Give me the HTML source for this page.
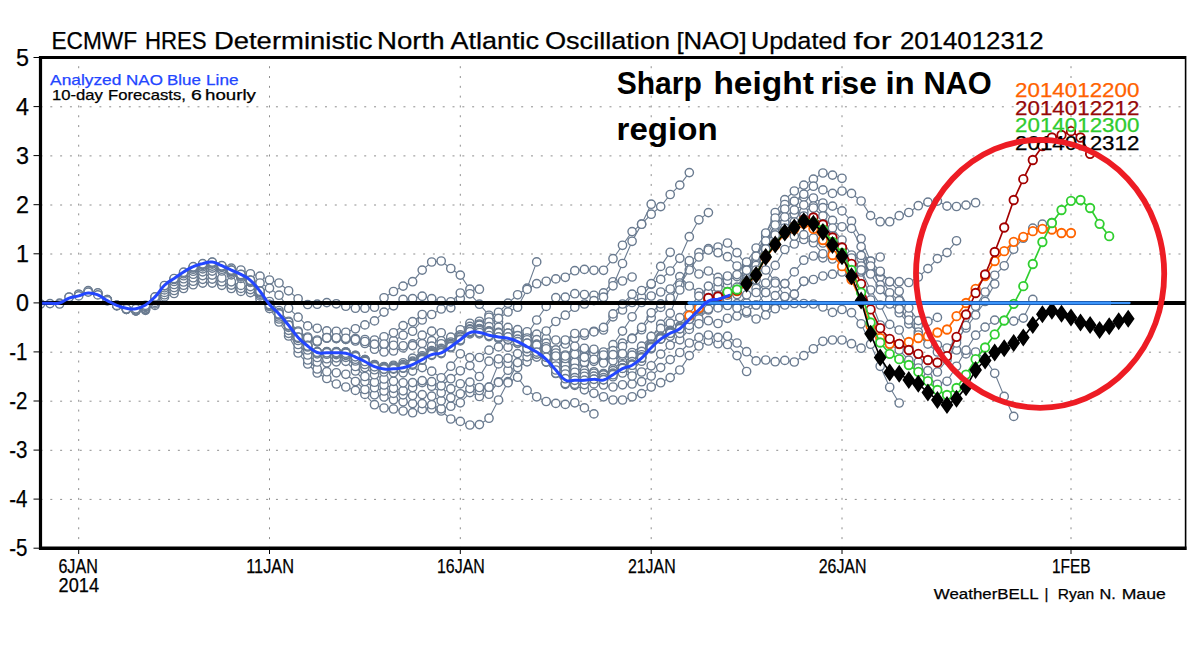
<!DOCTYPE html>
<html><head><meta charset="utf-8"><title>NAO</title>
<style>html,body{margin:0;padding:0;background:#fff}svg{display:block}</style>
</head><body>
<svg width="1200" height="648" viewBox="0 0 1200 648">
<rect width="1200" height="648" fill="#fff"/>
<g stroke="#8e8e8e" stroke-width="1" stroke-dasharray="2 7.81" fill="none">
<path d="M40.5 499.4H1185.5"/>
<path d="M40.5 450.3H1185.5"/>
<path d="M40.5 401.2H1185.5"/>
<path d="M40.5 352.2H1185.5"/>
<path d="M40.5 254H1185.5"/>
<path d="M40.5 205H1185.5"/>
<path d="M40.5 155.9H1185.5"/>
<path d="M40.5 106.8H1185.5"/>
<path d="M78.7 548.9V57.5"/>
<path d="M269.5 548.9V57.5"/>
<path d="M460.3 548.9V57.5"/>
<path d="M651.2 548.9V57.5"/>
<path d="M842 548.9V57.5"/>
<path d="M1071 548.9V57.5"/>
</g>
<defs><clipPath id="pc"><rect x="40.5" y="57.5" width="1145" height="490.7"/></clipPath></defs>
<g stroke="#6a7b90" fill="#fff" clip-path="url(#pc)">
<path d="M40.5 304 50 303.6 59.6 303.2 69.1 297 78.7 294.3 88.2 291.1 97.8 293.6 107.3 299.9 116.8 305.4 126.4 309.3 135.9 310.8 145.5 310.3 155 305.4 164.5 296.9 174.1 293.5 183.6 288.5 193.2 284.7 202.7 283.1 212.2 283.1 221.8 285.3 231.3 288.5 240.9 291.4 250.4 292.6 260 298.9 269.5 307.5 279 315.5 288.6 325.3 298.1 334 307.7 339 317.2 341.5 326.8 337.7 336.3 338.3 345.8 339.3 355.4 340.5 364.9 342.5 374.5 345.2 384 345 393.5 340.7 403.1 335.2 412.6 331.2 422.2 320" fill="none" stroke-width="1.1"/>
<g stroke-width="1.4"><circle cx="40.5" cy="304" r="4.15"/><circle cx="50" cy="303.6" r="4.15"/><circle cx="59.6" cy="303.2" r="4.15"/><circle cx="69.1" cy="297" r="4.15"/><circle cx="78.7" cy="294.3" r="4.15"/><circle cx="88.2" cy="291.1" r="4.15"/><circle cx="97.8" cy="293.6" r="4.15"/><circle cx="107.3" cy="299.9" r="4.15"/><circle cx="116.8" cy="305.4" r="4.15"/><circle cx="126.4" cy="309.3" r="4.15"/><circle cx="135.9" cy="310.8" r="4.15"/><circle cx="145.5" cy="310.3" r="4.15"/><circle cx="155" cy="305.4" r="4.15"/><circle cx="164.5" cy="296.9" r="4.15"/><circle cx="174.1" cy="293.5" r="4.15"/><circle cx="183.6" cy="288.5" r="4.15"/><circle cx="193.2" cy="284.7" r="4.15"/><circle cx="202.7" cy="283.1" r="4.15"/><circle cx="212.2" cy="283.1" r="4.15"/><circle cx="221.8" cy="285.3" r="4.15"/><circle cx="231.3" cy="288.5" r="4.15"/><circle cx="240.9" cy="291.4" r="4.15"/><circle cx="250.4" cy="292.6" r="4.15"/><circle cx="260" cy="298.9" r="4.15"/><circle cx="269.5" cy="307.5" r="4.15"/><circle cx="279" cy="315.5" r="4.15"/><circle cx="288.6" cy="325.3" r="4.15"/><circle cx="298.1" cy="334" r="4.15"/><circle cx="307.7" cy="339" r="4.15"/><circle cx="317.2" cy="341.5" r="4.15"/><circle cx="326.8" cy="337.7" r="4.15"/><circle cx="336.3" cy="338.3" r="4.15"/><circle cx="345.8" cy="339.3" r="4.15"/><circle cx="355.4" cy="340.5" r="4.15"/><circle cx="364.9" cy="342.5" r="4.15"/><circle cx="374.5" cy="345.2" r="4.15"/><circle cx="384" cy="345" r="4.15"/><circle cx="393.5" cy="340.7" r="4.15"/><circle cx="403.1" cy="335.2" r="4.15"/><circle cx="412.6" cy="331.2" r="4.15"/><circle cx="422.2" cy="320" r="4.15"/></g>
<path d="M59.6 304 69.1 297.3 78.7 294.3 88.2 290.6 97.8 293.3 107.3 299.7 116.8 305.4 126.4 309.3 135.9 310.8 145.5 309.5 155 303.9 164.5 294.7 174.1 290.5 183.6 285.2 193.2 281.2 202.7 279.3 212.2 279.1 221.8 281.7 231.3 285.1 240.9 288.4 250.4 289.6 260 295.9 269.5 304.5 279 313 288.6 323.3 298.1 333 307.7 339 317.2 341.8 326.8 338.2 336.3 338.6 345.8 339.3 355.4 341 364.9 343.5 374.5 349.2 384 352 393.5 351 403.1 347.9 412.6 343.9 422.2 335.2 431.7 331.2 441.2 332.8" fill="none" stroke-width="1.1"/>
<g stroke-width="1.4"><circle cx="59.6" cy="304" r="4.15"/><circle cx="69.1" cy="297.3" r="4.15"/><circle cx="78.7" cy="294.3" r="4.15"/><circle cx="88.2" cy="290.6" r="4.15"/><circle cx="97.8" cy="293.3" r="4.15"/><circle cx="107.3" cy="299.7" r="4.15"/><circle cx="116.8" cy="305.4" r="4.15"/><circle cx="126.4" cy="309.3" r="4.15"/><circle cx="135.9" cy="310.8" r="4.15"/><circle cx="145.5" cy="309.5" r="4.15"/><circle cx="155" cy="303.9" r="4.15"/><circle cx="164.5" cy="294.7" r="4.15"/><circle cx="174.1" cy="290.5" r="4.15"/><circle cx="183.6" cy="285.2" r="4.15"/><circle cx="193.2" cy="281.2" r="4.15"/><circle cx="202.7" cy="279.3" r="4.15"/><circle cx="212.2" cy="279.1" r="4.15"/><circle cx="221.8" cy="281.7" r="4.15"/><circle cx="231.3" cy="285.1" r="4.15"/><circle cx="240.9" cy="288.4" r="4.15"/><circle cx="250.4" cy="289.6" r="4.15"/><circle cx="260" cy="295.9" r="4.15"/><circle cx="269.5" cy="304.5" r="4.15"/><circle cx="279" cy="313" r="4.15"/><circle cx="288.6" cy="323.3" r="4.15"/><circle cx="298.1" cy="333" r="4.15"/><circle cx="307.7" cy="339" r="4.15"/><circle cx="317.2" cy="341.8" r="4.15"/><circle cx="326.8" cy="338.2" r="4.15"/><circle cx="336.3" cy="338.6" r="4.15"/><circle cx="345.8" cy="339.3" r="4.15"/><circle cx="355.4" cy="341" r="4.15"/><circle cx="364.9" cy="343.5" r="4.15"/><circle cx="374.5" cy="349.2" r="4.15"/><circle cx="384" cy="352" r="4.15"/><circle cx="393.5" cy="351" r="4.15"/><circle cx="403.1" cy="347.9" r="4.15"/><circle cx="412.6" cy="343.9" r="4.15"/><circle cx="422.2" cy="335.2" r="4.15"/><circle cx="431.7" cy="331.2" r="4.15"/><circle cx="441.2" cy="332.8" r="4.15"/></g>
<path d="M78.7 295.9 88.2 292.1 97.8 292.9 107.3 299.6 116.8 305.4 126.4 309.3 135.9 310.8 145.5 308.8 155 302.4 164.5 292.4 174.1 287.5 183.6 282 193.2 277.7 202.7 275.6 212.2 275.1 221.8 278 231.3 281.8 240.9 285.4 250.4 286.6 260 292.9 269.5 301.5 279 310.5 288.6 321.3 298.1 331 307.7 337 317.2 340 326.8 336.7 336.3 337.3 345.8 338.3 355.4 338.5 364.9 339.5 374.5 340 384 336.8 393.5 332.8 403.1 325.6 412.6 321.7 422.2 314.5 431.7 314.5 441.2 309 450.8 307.8 460.3 298.6" fill="none" stroke-width="1.1"/>
<g stroke-width="1.4"><circle cx="78.7" cy="295.9" r="4.15"/><circle cx="88.2" cy="292.1" r="4.15"/><circle cx="97.8" cy="292.9" r="4.15"/><circle cx="107.3" cy="299.6" r="4.15"/><circle cx="116.8" cy="305.4" r="4.15"/><circle cx="126.4" cy="309.3" r="4.15"/><circle cx="135.9" cy="310.8" r="4.15"/><circle cx="145.5" cy="308.8" r="4.15"/><circle cx="155" cy="302.4" r="4.15"/><circle cx="164.5" cy="292.4" r="4.15"/><circle cx="174.1" cy="287.5" r="4.15"/><circle cx="183.6" cy="282" r="4.15"/><circle cx="193.2" cy="277.7" r="4.15"/><circle cx="202.7" cy="275.6" r="4.15"/><circle cx="212.2" cy="275.1" r="4.15"/><circle cx="221.8" cy="278" r="4.15"/><circle cx="231.3" cy="281.8" r="4.15"/><circle cx="240.9" cy="285.4" r="4.15"/><circle cx="250.4" cy="286.6" r="4.15"/><circle cx="260" cy="292.9" r="4.15"/><circle cx="269.5" cy="301.5" r="4.15"/><circle cx="279" cy="310.5" r="4.15"/><circle cx="288.6" cy="321.3" r="4.15"/><circle cx="298.1" cy="331" r="4.15"/><circle cx="307.7" cy="337" r="4.15"/><circle cx="317.2" cy="340" r="4.15"/><circle cx="326.8" cy="336.7" r="4.15"/><circle cx="336.3" cy="337.3" r="4.15"/><circle cx="345.8" cy="338.3" r="4.15"/><circle cx="355.4" cy="338.5" r="4.15"/><circle cx="364.9" cy="339.5" r="4.15"/><circle cx="374.5" cy="340" r="4.15"/><circle cx="384" cy="336.8" r="4.15"/><circle cx="393.5" cy="332.8" r="4.15"/><circle cx="403.1" cy="325.6" r="4.15"/><circle cx="412.6" cy="321.7" r="4.15"/><circle cx="422.2" cy="314.5" r="4.15"/><circle cx="431.7" cy="314.5" r="4.15"/><circle cx="441.2" cy="309" r="4.15"/><circle cx="450.8" cy="307.8" r="4.15"/><circle cx="460.3" cy="298.6" r="4.15"/></g>
<path d="M97.8 294.9 107.3 300.8 116.8 305.9 126.4 309.1 135.9 309.8 145.5 307.3 155 300.4 164.5 289.9 174.1 284.5 183.6 278.7 193.2 274.2 202.7 271.8 212.2 271.1 221.8 268.7 231.3 268.1 240.9 270 250.4 273.8 260 276.2 269.5 280 279 283 288.6 290.8 298.1 298.8 307.7 304.5 317.2 304.2 326.8 302.6 336.3 303.8 345.8 306.2 355.4 308.2 364.9 308.2 374.5 307.2 384 297.8 393.5 291.5 403.1 286.1 412.6 281.7 422.2 270.1 431.7 262 441.2 261 450.8 268.5 460.3 275.1 469.9 289.2 479.4 289.2" fill="none" stroke-width="1.1"/>
<g stroke-width="1.4"><circle cx="97.8" cy="294.9" r="4.15"/><circle cx="107.3" cy="300.8" r="4.15"/><circle cx="116.8" cy="305.9" r="4.15"/><circle cx="126.4" cy="309.1" r="4.15"/><circle cx="135.9" cy="309.8" r="4.15"/><circle cx="145.5" cy="307.3" r="4.15"/><circle cx="155" cy="300.4" r="4.15"/><circle cx="164.5" cy="289.9" r="4.15"/><circle cx="174.1" cy="284.5" r="4.15"/><circle cx="183.6" cy="278.7" r="4.15"/><circle cx="193.2" cy="274.2" r="4.15"/><circle cx="202.7" cy="271.8" r="4.15"/><circle cx="212.2" cy="271.1" r="4.15"/><circle cx="221.8" cy="268.7" r="4.15"/><circle cx="231.3" cy="268.1" r="4.15"/><circle cx="240.9" cy="270" r="4.15"/><circle cx="250.4" cy="273.8" r="4.15"/><circle cx="260" cy="276.2" r="4.15"/><circle cx="269.5" cy="280" r="4.15"/><circle cx="279" cy="283" r="4.15"/><circle cx="288.6" cy="290.8" r="4.15"/><circle cx="298.1" cy="298.8" r="4.15"/><circle cx="307.7" cy="304.5" r="4.15"/><circle cx="317.2" cy="304.2" r="4.15"/><circle cx="326.8" cy="302.6" r="4.15"/><circle cx="336.3" cy="303.8" r="4.15"/><circle cx="345.8" cy="306.2" r="4.15"/><circle cx="355.4" cy="308.2" r="4.15"/><circle cx="364.9" cy="308.2" r="4.15"/><circle cx="374.5" cy="307.2" r="4.15"/><circle cx="384" cy="297.8" r="4.15"/><circle cx="393.5" cy="291.5" r="4.15"/><circle cx="403.1" cy="286.1" r="4.15"/><circle cx="412.6" cy="281.7" r="4.15"/><circle cx="422.2" cy="270.1" r="4.15"/><circle cx="431.7" cy="262" r="4.15"/><circle cx="441.2" cy="261" r="4.15"/><circle cx="450.8" cy="268.5" r="4.15"/><circle cx="460.3" cy="275.1" r="4.15"/><circle cx="469.9" cy="289.2" r="4.15"/><circle cx="479.4" cy="289.2" r="4.15"/></g>
<path d="M116.8 305.4 126.4 308.8 135.9 309.8 145.5 306.5 155 298.9 164.5 287.7 174.1 281.5 183.6 275.7 193.2 271.2 202.7 268.8 212.2 268.1 221.8 271 231.3 274.8 240.9 278.4 250.4 280.3 260 283 269.5 288.1 279 295.2 288.6 308.2 298.1 317.2 307.7 325.9 317.2 328.3 326.8 330.9 336.3 331.3 345.8 332.3 355.4 328.8 364.9 324.9 374.5 320.9 384 312.1 393.5 305.8 403.1 299.4 412.6 298.6 422.2 296.2 431.7 298.6 441.2 301 450.8 301.8 460.3 293 469.9 293.8 479.4 304.2 489 315.3 498.5 322" fill="none" stroke-width="1.1"/>
<g stroke-width="1.4"><circle cx="116.8" cy="305.4" r="4.15"/><circle cx="126.4" cy="308.8" r="4.15"/><circle cx="135.9" cy="309.8" r="4.15"/><circle cx="145.5" cy="306.5" r="4.15"/><circle cx="155" cy="298.9" r="4.15"/><circle cx="164.5" cy="287.7" r="4.15"/><circle cx="174.1" cy="281.5" r="4.15"/><circle cx="183.6" cy="275.7" r="4.15"/><circle cx="193.2" cy="271.2" r="4.15"/><circle cx="202.7" cy="268.8" r="4.15"/><circle cx="212.2" cy="268.1" r="4.15"/><circle cx="221.8" cy="271" r="4.15"/><circle cx="231.3" cy="274.8" r="4.15"/><circle cx="240.9" cy="278.4" r="4.15"/><circle cx="250.4" cy="280.3" r="4.15"/><circle cx="260" cy="283" r="4.15"/><circle cx="269.5" cy="288.1" r="4.15"/><circle cx="279" cy="295.2" r="4.15"/><circle cx="288.6" cy="308.2" r="4.15"/><circle cx="298.1" cy="317.2" r="4.15"/><circle cx="307.7" cy="325.9" r="4.15"/><circle cx="317.2" cy="328.3" r="4.15"/><circle cx="326.8" cy="330.9" r="4.15"/><circle cx="336.3" cy="331.3" r="4.15"/><circle cx="345.8" cy="332.3" r="4.15"/><circle cx="355.4" cy="328.8" r="4.15"/><circle cx="364.9" cy="324.9" r="4.15"/><circle cx="374.5" cy="320.9" r="4.15"/><circle cx="384" cy="312.1" r="4.15"/><circle cx="393.5" cy="305.8" r="4.15"/><circle cx="403.1" cy="299.4" r="4.15"/><circle cx="412.6" cy="298.6" r="4.15"/><circle cx="422.2" cy="296.2" r="4.15"/><circle cx="431.7" cy="298.6" r="4.15"/><circle cx="441.2" cy="301" r="4.15"/><circle cx="450.8" cy="301.8" r="4.15"/><circle cx="460.3" cy="293" r="4.15"/><circle cx="469.9" cy="293.8" r="4.15"/><circle cx="479.4" cy="304.2" r="4.15"/><circle cx="489" cy="315.3" r="4.15"/><circle cx="498.5" cy="322" r="4.15"/></g>
<path d="M135.9 308.8 145.5 305.3 155 297.4 164.5 285.9 174.1 279.5 183.6 273.7 193.2 269.2 202.7 266.8 212.2 266.1 221.8 269.2 231.3 273.1 240.9 276.9 250.4 282.3 260 294.2 269.5 308.5 279 322 288.6 336 298.1 353 307.7 364 317.2 373 326.8 378.5 336.3 384 345.8 387 355.4 390.4 364.9 394.4 374.5 404.7 384 408 393.5 409 403.1 411 412.6 412.7 422.2 409.5 431.7 408.7 441.2 411 450.8 419 460.3 421.4 469.9 425 479.4 424.6 489 418.2 498.5 400 508 381.7 517.6 363.4" fill="none" stroke-width="1.1"/>
<g stroke-width="1.4"><circle cx="135.9" cy="308.8" r="4.15"/><circle cx="145.5" cy="305.3" r="4.15"/><circle cx="155" cy="297.4" r="4.15"/><circle cx="164.5" cy="285.9" r="4.15"/><circle cx="174.1" cy="279.5" r="4.15"/><circle cx="183.6" cy="273.7" r="4.15"/><circle cx="193.2" cy="269.2" r="4.15"/><circle cx="202.7" cy="266.8" r="4.15"/><circle cx="212.2" cy="266.1" r="4.15"/><circle cx="221.8" cy="269.2" r="4.15"/><circle cx="231.3" cy="273.1" r="4.15"/><circle cx="240.9" cy="276.9" r="4.15"/><circle cx="250.4" cy="282.3" r="4.15"/><circle cx="260" cy="294.2" r="4.15"/><circle cx="269.5" cy="308.5" r="4.15"/><circle cx="279" cy="322" r="4.15"/><circle cx="288.6" cy="336" r="4.15"/><circle cx="298.1" cy="353" r="4.15"/><circle cx="307.7" cy="364" r="4.15"/><circle cx="317.2" cy="373" r="4.15"/><circle cx="326.8" cy="378.5" r="4.15"/><circle cx="336.3" cy="384" r="4.15"/><circle cx="345.8" cy="387" r="4.15"/><circle cx="355.4" cy="390.4" r="4.15"/><circle cx="364.9" cy="394.4" r="4.15"/><circle cx="374.5" cy="404.7" r="4.15"/><circle cx="384" cy="408" r="4.15"/><circle cx="393.5" cy="409" r="4.15"/><circle cx="403.1" cy="411" r="4.15"/><circle cx="412.6" cy="412.7" r="4.15"/><circle cx="422.2" cy="409.5" r="4.15"/><circle cx="431.7" cy="408.7" r="4.15"/><circle cx="441.2" cy="411" r="4.15"/><circle cx="450.8" cy="419" r="4.15"/><circle cx="460.3" cy="421.4" r="4.15"/><circle cx="469.9" cy="425" r="4.15"/><circle cx="479.4" cy="424.6" r="4.15"/><circle cx="489" cy="418.2" r="4.15"/><circle cx="498.5" cy="400" r="4.15"/><circle cx="508" cy="381.7" r="4.15"/><circle cx="517.6" cy="363.4" r="4.15"/></g>
<path d="M155 296.9 164.5 285.5 174.1 279.1 183.6 273 193.2 268 202.7 265.3 212.2 264.1 221.8 267.3 231.3 271.5 240.9 275.4 250.4 281 260 291.5 269.5 304.5 279 312.5 288.6 322.3 298.1 332 307.7 338 317.2 341 326.8 337.7 336.3 337.8 345.8 338.3 355.4 339.5 364.9 341.5 374.5 344.2 384 344 393.5 345.3 403.1 345.8 412.6 345.6 422.2 343.6 431.7 340.7 441.2 340.8 450.8 338.4 460.3 333.6 469.9 325.6 479.4 321.3 489 317.3 498.5 312.3 508 303.2 517.6 294.8 527.1 288.2 536.7 261.9" fill="none" stroke-width="1.1"/>
<g stroke-width="1.4"><circle cx="155" cy="296.9" r="4.15"/><circle cx="164.5" cy="285.5" r="4.15"/><circle cx="174.1" cy="279.1" r="4.15"/><circle cx="183.6" cy="273" r="4.15"/><circle cx="193.2" cy="268" r="4.15"/><circle cx="202.7" cy="265.3" r="4.15"/><circle cx="212.2" cy="264.1" r="4.15"/><circle cx="221.8" cy="267.3" r="4.15"/><circle cx="231.3" cy="271.5" r="4.15"/><circle cx="240.9" cy="275.4" r="4.15"/><circle cx="250.4" cy="281" r="4.15"/><circle cx="260" cy="291.5" r="4.15"/><circle cx="269.5" cy="304.5" r="4.15"/><circle cx="279" cy="312.5" r="4.15"/><circle cx="288.6" cy="322.3" r="4.15"/><circle cx="298.1" cy="332" r="4.15"/><circle cx="307.7" cy="338" r="4.15"/><circle cx="317.2" cy="341" r="4.15"/><circle cx="326.8" cy="337.7" r="4.15"/><circle cx="336.3" cy="337.8" r="4.15"/><circle cx="345.8" cy="338.3" r="4.15"/><circle cx="355.4" cy="339.5" r="4.15"/><circle cx="364.9" cy="341.5" r="4.15"/><circle cx="374.5" cy="344.2" r="4.15"/><circle cx="384" cy="344" r="4.15"/><circle cx="393.5" cy="345.3" r="4.15"/><circle cx="403.1" cy="345.8" r="4.15"/><circle cx="412.6" cy="345.6" r="4.15"/><circle cx="422.2" cy="343.6" r="4.15"/><circle cx="431.7" cy="340.7" r="4.15"/><circle cx="441.2" cy="340.8" r="4.15"/><circle cx="450.8" cy="338.4" r="4.15"/><circle cx="460.3" cy="333.6" r="4.15"/><circle cx="469.9" cy="325.6" r="4.15"/><circle cx="479.4" cy="321.3" r="4.15"/><circle cx="489" cy="317.3" r="4.15"/><circle cx="498.5" cy="312.3" r="4.15"/><circle cx="508" cy="303.2" r="4.15"/><circle cx="517.6" cy="294.8" r="4.15"/><circle cx="527.1" cy="288.2" r="4.15"/><circle cx="536.7" cy="261.9" r="4.15"/></g>
<path d="M174.1 278.5 183.6 272.2 193.2 267.2 202.7 264.3 212.2 263.1 221.8 266.8 231.3 271.5 240.9 275.9 250.4 282 260 293 269.5 306.5 279 319 288.6 333.3 298.1 348.5 307.7 360 317.2 369 326.8 371.7 336.3 372.8 345.8 374.3 355.4 381.5 364.9 389.5 374.5 394.7 384 397 393.5 399.8 403.1 401.8 412.6 403.6 422.2 403.6 431.7 404.7 441.2 408.8 450.8 406.2 460.3 402.8 469.9 392.6 479.4 396.5 489 394.2 498.5 381.9 508 370.2 517.6 367.6 527.1 361.8 536.7 357.1 546.2 356.3 555.8 360" fill="none" stroke-width="1.1"/>
<g stroke-width="1.4"><circle cx="174.1" cy="278.5" r="4.15"/><circle cx="183.6" cy="272.2" r="4.15"/><circle cx="193.2" cy="267.2" r="4.15"/><circle cx="202.7" cy="264.3" r="4.15"/><circle cx="212.2" cy="263.1" r="4.15"/><circle cx="221.8" cy="266.8" r="4.15"/><circle cx="231.3" cy="271.5" r="4.15"/><circle cx="240.9" cy="275.9" r="4.15"/><circle cx="250.4" cy="282" r="4.15"/><circle cx="260" cy="293" r="4.15"/><circle cx="269.5" cy="306.5" r="4.15"/><circle cx="279" cy="319" r="4.15"/><circle cx="288.6" cy="333.3" r="4.15"/><circle cx="298.1" cy="348.5" r="4.15"/><circle cx="307.7" cy="360" r="4.15"/><circle cx="317.2" cy="369" r="4.15"/><circle cx="326.8" cy="371.7" r="4.15"/><circle cx="336.3" cy="372.8" r="4.15"/><circle cx="345.8" cy="374.3" r="4.15"/><circle cx="355.4" cy="381.5" r="4.15"/><circle cx="364.9" cy="389.5" r="4.15"/><circle cx="374.5" cy="394.7" r="4.15"/><circle cx="384" cy="397" r="4.15"/><circle cx="393.5" cy="399.8" r="4.15"/><circle cx="403.1" cy="401.8" r="4.15"/><circle cx="412.6" cy="403.6" r="4.15"/><circle cx="422.2" cy="403.6" r="4.15"/><circle cx="431.7" cy="404.7" r="4.15"/><circle cx="441.2" cy="408.8" r="4.15"/><circle cx="450.8" cy="406.2" r="4.15"/><circle cx="460.3" cy="402.8" r="4.15"/><circle cx="469.9" cy="392.6" r="4.15"/><circle cx="479.4" cy="396.5" r="4.15"/><circle cx="489" cy="394.2" r="4.15"/><circle cx="498.5" cy="381.9" r="4.15"/><circle cx="508" cy="370.2" r="4.15"/><circle cx="517.6" cy="367.6" r="4.15"/><circle cx="527.1" cy="361.8" r="4.15"/><circle cx="536.7" cy="357.1" r="4.15"/><circle cx="546.2" cy="356.3" r="4.15"/><circle cx="555.8" cy="360" r="4.15"/></g>
<path d="M193.2 266.7 202.7 263.7 212.2 262.3 221.8 266 231.3 270.6 240.9 275 250.4 281.1 260 292.1 269.5 305.5 279 317 288.6 330.3 298.1 344.5 307.7 355 317.2 362 326.8 362.7 336.3 361.8 345.8 361.3 355.4 371 364.9 381.5 374.5 387.7 384 391 393.5 393.3 403.1 394.8 412.6 395.6 422.2 394.6 431.7 396.2 441.2 400.8 450.8 397.7 460.3 393.8 469.9 388.6 479.4 390.5 489 387.2 498.5 363.9 508 363.2 517.6 362.6 527.1 356.8 536.7 352.1 546.2 351.8 555.8 355 565.3 362.5 574.8 360.3" fill="none" stroke-width="1.1"/>
<g stroke-width="1.4"><circle cx="193.2" cy="266.7" r="4.15"/><circle cx="202.7" cy="263.7" r="4.15"/><circle cx="212.2" cy="262.3" r="4.15"/><circle cx="221.8" cy="266" r="4.15"/><circle cx="231.3" cy="270.6" r="4.15"/><circle cx="240.9" cy="275" r="4.15"/><circle cx="250.4" cy="281.1" r="4.15"/><circle cx="260" cy="292.1" r="4.15"/><circle cx="269.5" cy="305.5" r="4.15"/><circle cx="279" cy="317" r="4.15"/><circle cx="288.6" cy="330.3" r="4.15"/><circle cx="298.1" cy="344.5" r="4.15"/><circle cx="307.7" cy="355" r="4.15"/><circle cx="317.2" cy="362" r="4.15"/><circle cx="326.8" cy="362.7" r="4.15"/><circle cx="336.3" cy="361.8" r="4.15"/><circle cx="345.8" cy="361.3" r="4.15"/><circle cx="355.4" cy="371" r="4.15"/><circle cx="364.9" cy="381.5" r="4.15"/><circle cx="374.5" cy="387.7" r="4.15"/><circle cx="384" cy="391" r="4.15"/><circle cx="393.5" cy="393.3" r="4.15"/><circle cx="403.1" cy="394.8" r="4.15"/><circle cx="412.6" cy="395.6" r="4.15"/><circle cx="422.2" cy="394.6" r="4.15"/><circle cx="431.7" cy="396.2" r="4.15"/><circle cx="441.2" cy="400.8" r="4.15"/><circle cx="450.8" cy="397.7" r="4.15"/><circle cx="460.3" cy="393.8" r="4.15"/><circle cx="469.9" cy="388.6" r="4.15"/><circle cx="479.4" cy="390.5" r="4.15"/><circle cx="489" cy="387.2" r="4.15"/><circle cx="498.5" cy="363.9" r="4.15"/><circle cx="508" cy="363.2" r="4.15"/><circle cx="517.6" cy="362.6" r="4.15"/><circle cx="527.1" cy="356.8" r="4.15"/><circle cx="536.7" cy="352.1" r="4.15"/><circle cx="546.2" cy="351.8" r="4.15"/><circle cx="555.8" cy="355" r="4.15"/><circle cx="565.3" cy="362.5" r="4.15"/><circle cx="574.8" cy="360.3" r="4.15"/></g>
<path d="M212.2 262.1 221.8 265.7 231.3 270.1 240.9 274.4 250.4 280.3 260 291.2 269.5 304.5 279 315 288.6 327.3 298.1 340.5 307.7 350 317.2 357.5 326.8 358.7 336.3 357.8 345.8 357.3 355.4 366.5 364.9 376.5 374.5 382.2 384 385 393.5 388.3 403.1 390.8 412.6 387.6 422.2 382.6 431.7 386.2 441.2 392.8 450.8 388.7 460.3 383.8 469.9 382.1 479.4 387.5 489 387.2 498.5 382.4 508 382.7 517.6 377.2 527.1 390.4 536.7 396.8 546.2 401.5 555.8 403.4 565.3 404.4 574.8 402.8 584.4 407.9 593.9 413.9" fill="none" stroke-width="1.1"/>
<g stroke-width="1.4"><circle cx="212.2" cy="262.1" r="4.15"/><circle cx="221.8" cy="265.7" r="4.15"/><circle cx="231.3" cy="270.1" r="4.15"/><circle cx="240.9" cy="274.4" r="4.15"/><circle cx="250.4" cy="280.3" r="4.15"/><circle cx="260" cy="291.2" r="4.15"/><circle cx="269.5" cy="304.5" r="4.15"/><circle cx="279" cy="315" r="4.15"/><circle cx="288.6" cy="327.3" r="4.15"/><circle cx="298.1" cy="340.5" r="4.15"/><circle cx="307.7" cy="350" r="4.15"/><circle cx="317.2" cy="357.5" r="4.15"/><circle cx="326.8" cy="358.7" r="4.15"/><circle cx="336.3" cy="357.8" r="4.15"/><circle cx="345.8" cy="357.3" r="4.15"/><circle cx="355.4" cy="366.5" r="4.15"/><circle cx="364.9" cy="376.5" r="4.15"/><circle cx="374.5" cy="382.2" r="4.15"/><circle cx="384" cy="385" r="4.15"/><circle cx="393.5" cy="388.3" r="4.15"/><circle cx="403.1" cy="390.8" r="4.15"/><circle cx="412.6" cy="387.6" r="4.15"/><circle cx="422.2" cy="382.6" r="4.15"/><circle cx="431.7" cy="386.2" r="4.15"/><circle cx="441.2" cy="392.8" r="4.15"/><circle cx="450.8" cy="388.7" r="4.15"/><circle cx="460.3" cy="383.8" r="4.15"/><circle cx="469.9" cy="382.1" r="4.15"/><circle cx="479.4" cy="387.5" r="4.15"/><circle cx="489" cy="387.2" r="4.15"/><circle cx="498.5" cy="382.4" r="4.15"/><circle cx="508" cy="382.7" r="4.15"/><circle cx="517.6" cy="377.2" r="4.15"/><circle cx="527.1" cy="390.4" r="4.15"/><circle cx="536.7" cy="396.8" r="4.15"/><circle cx="546.2" cy="401.5" r="4.15"/><circle cx="555.8" cy="403.4" r="4.15"/><circle cx="565.3" cy="404.4" r="4.15"/><circle cx="574.8" cy="402.8" r="4.15"/><circle cx="584.4" cy="407.9" r="4.15"/><circle cx="593.9" cy="413.9" r="4.15"/></g>
<path d="M231.3 270.1 240.9 274.5 250.4 280.6 260 291.6 269.5 305 279 314.7 288.6 326 298.1 338.4 307.7 347 317.2 353.8 326.8 354.2 336.3 354.6 345.8 355.3 355.4 361 364.9 367.5 374.5 374.7 384 379 393.5 381.3 403.1 382.8 412.6 382.6 422.2 380.6 431.7 381.7 441.2 385.8 450.8 378.7 460.3 370.8 469.9 365.6 479.4 376.5 489 361.2 498.5 358.9 508 358.2 517.6 353.6 527.1 351.8 536.7 349.1 546.2 347.8 555.8 350 565.3 355 574.8 350.3 584.4 351.3 593.9 351.3 603.5 356 613 354.7" fill="none" stroke-width="1.1"/>
<g stroke-width="1.4"><circle cx="231.3" cy="270.1" r="4.15"/><circle cx="240.9" cy="274.5" r="4.15"/><circle cx="250.4" cy="280.6" r="4.15"/><circle cx="260" cy="291.6" r="4.15"/><circle cx="269.5" cy="305" r="4.15"/><circle cx="279" cy="314.7" r="4.15"/><circle cx="288.6" cy="326" r="4.15"/><circle cx="298.1" cy="338.4" r="4.15"/><circle cx="307.7" cy="347" r="4.15"/><circle cx="317.2" cy="353.8" r="4.15"/><circle cx="326.8" cy="354.2" r="4.15"/><circle cx="336.3" cy="354.6" r="4.15"/><circle cx="345.8" cy="355.3" r="4.15"/><circle cx="355.4" cy="361" r="4.15"/><circle cx="364.9" cy="367.5" r="4.15"/><circle cx="374.5" cy="374.7" r="4.15"/><circle cx="384" cy="379" r="4.15"/><circle cx="393.5" cy="381.3" r="4.15"/><circle cx="403.1" cy="382.8" r="4.15"/><circle cx="412.6" cy="382.6" r="4.15"/><circle cx="422.2" cy="380.6" r="4.15"/><circle cx="431.7" cy="381.7" r="4.15"/><circle cx="441.2" cy="385.8" r="4.15"/><circle cx="450.8" cy="378.7" r="4.15"/><circle cx="460.3" cy="370.8" r="4.15"/><circle cx="469.9" cy="365.6" r="4.15"/><circle cx="479.4" cy="376.5" r="4.15"/><circle cx="489" cy="361.2" r="4.15"/><circle cx="498.5" cy="358.9" r="4.15"/><circle cx="508" cy="358.2" r="4.15"/><circle cx="517.6" cy="353.6" r="4.15"/><circle cx="527.1" cy="351.8" r="4.15"/><circle cx="536.7" cy="349.1" r="4.15"/><circle cx="546.2" cy="347.8" r="4.15"/><circle cx="555.8" cy="350" r="4.15"/><circle cx="565.3" cy="355" r="4.15"/><circle cx="574.8" cy="350.3" r="4.15"/><circle cx="584.4" cy="351.3" r="4.15"/><circle cx="593.9" cy="351.3" r="4.15"/><circle cx="603.5" cy="356" r="4.15"/><circle cx="613" cy="354.7" r="4.15"/></g>
<path d="M250.4 280.3 260 291.2 269.5 304.5 279 314 288.6 325.3 298.1 337.5 307.7 346 317.2 352.5 326.8 352.7 336.3 353.6 345.8 354.8 355.4 359.2 364.9 364.5 374.5 369.7 384 372 393.5 372.8 403.1 372.8 412.6 371.1 422.2 367.6 431.7 371.2 441.2 377.8 450.8 366.2 460.3 353.8 469.9 357.6 479.4 357.5 489 350.2 498.5 346.9 508 347.2 517.6 341.6 527.1 334.3 536.7 320 546.2 306.4 555.8 297.7 565.3 297.2 574.8 293.7 584.4 294.5 593.9 295.3 603.5 292.9 613 281.8 622.5 281 632.1 277" fill="none" stroke-width="1.1"/>
<g stroke-width="1.4"><circle cx="250.4" cy="280.3" r="4.15"/><circle cx="260" cy="291.2" r="4.15"/><circle cx="269.5" cy="304.5" r="4.15"/><circle cx="279" cy="314" r="4.15"/><circle cx="288.6" cy="325.3" r="4.15"/><circle cx="298.1" cy="337.5" r="4.15"/><circle cx="307.7" cy="346" r="4.15"/><circle cx="317.2" cy="352.5" r="4.15"/><circle cx="326.8" cy="352.7" r="4.15"/><circle cx="336.3" cy="353.6" r="4.15"/><circle cx="345.8" cy="354.8" r="4.15"/><circle cx="355.4" cy="359.2" r="4.15"/><circle cx="364.9" cy="364.5" r="4.15"/><circle cx="374.5" cy="369.7" r="4.15"/><circle cx="384" cy="372" r="4.15"/><circle cx="393.5" cy="372.8" r="4.15"/><circle cx="403.1" cy="372.8" r="4.15"/><circle cx="412.6" cy="371.1" r="4.15"/><circle cx="422.2" cy="367.6" r="4.15"/><circle cx="431.7" cy="371.2" r="4.15"/><circle cx="441.2" cy="377.8" r="4.15"/><circle cx="450.8" cy="366.2" r="4.15"/><circle cx="460.3" cy="353.8" r="4.15"/><circle cx="469.9" cy="357.6" r="4.15"/><circle cx="479.4" cy="357.5" r="4.15"/><circle cx="489" cy="350.2" r="4.15"/><circle cx="498.5" cy="346.9" r="4.15"/><circle cx="508" cy="347.2" r="4.15"/><circle cx="517.6" cy="341.6" r="4.15"/><circle cx="527.1" cy="334.3" r="4.15"/><circle cx="536.7" cy="320" r="4.15"/><circle cx="546.2" cy="306.4" r="4.15"/><circle cx="555.8" cy="297.7" r="4.15"/><circle cx="565.3" cy="297.2" r="4.15"/><circle cx="574.8" cy="293.7" r="4.15"/><circle cx="584.4" cy="294.5" r="4.15"/><circle cx="593.9" cy="295.3" r="4.15"/><circle cx="603.5" cy="292.9" r="4.15"/><circle cx="613" cy="281.8" r="4.15"/><circle cx="622.5" cy="281" r="4.15"/><circle cx="632.1" cy="277" r="4.15"/></g>
<path d="M269.5 304.5 279 313.9 288.6 325 298.1 337 307.7 345.3 317.2 351.7 326.8 351.7 336.3 351.7 345.8 352 355.4 355.5 364.9 359.8 374.5 364.9 384 367 393.5 365.3 403.1 362.8 412.6 358.1 422.2 351.6 431.7 346.2 441.2 343.8 450.8 337.2 460.3 329.8 469.9 323.3 479.4 324 489 322 498.5 318.4 508 312 517.6 307.2 527.1 289.4 536.7 283.7 546.2 281.3 555.8 278.9 565.3 277.3 574.8 270.7 584.4 269.4 593.9 270.3 603.5 270.3 613 258.7 622.5 245.3 632.1 231.6 641.6 224.2 651.2 204.2" fill="none" stroke-width="1.1"/>
<g stroke-width="1.4"><circle cx="269.5" cy="304.5" r="4.15"/><circle cx="279" cy="313.9" r="4.15"/><circle cx="288.6" cy="325" r="4.15"/><circle cx="298.1" cy="337" r="4.15"/><circle cx="307.7" cy="345.3" r="4.15"/><circle cx="317.2" cy="351.7" r="4.15"/><circle cx="326.8" cy="351.7" r="4.15"/><circle cx="336.3" cy="351.7" r="4.15"/><circle cx="345.8" cy="352" r="4.15"/><circle cx="355.4" cy="355.5" r="4.15"/><circle cx="364.9" cy="359.8" r="4.15"/><circle cx="374.5" cy="364.9" r="4.15"/><circle cx="384" cy="367" r="4.15"/><circle cx="393.5" cy="365.3" r="4.15"/><circle cx="403.1" cy="362.8" r="4.15"/><circle cx="412.6" cy="358.1" r="4.15"/><circle cx="422.2" cy="351.6" r="4.15"/><circle cx="431.7" cy="346.2" r="4.15"/><circle cx="441.2" cy="343.8" r="4.15"/><circle cx="450.8" cy="337.2" r="4.15"/><circle cx="460.3" cy="329.8" r="4.15"/><circle cx="469.9" cy="323.3" r="4.15"/><circle cx="479.4" cy="324" r="4.15"/><circle cx="489" cy="322" r="4.15"/><circle cx="498.5" cy="318.4" r="4.15"/><circle cx="508" cy="312" r="4.15"/><circle cx="517.6" cy="307.2" r="4.15"/><circle cx="527.1" cy="289.4" r="4.15"/><circle cx="536.7" cy="283.7" r="4.15"/><circle cx="546.2" cy="281.3" r="4.15"/><circle cx="555.8" cy="278.9" r="4.15"/><circle cx="565.3" cy="277.3" r="4.15"/><circle cx="574.8" cy="270.7" r="4.15"/><circle cx="584.4" cy="269.4" r="4.15"/><circle cx="593.9" cy="270.3" r="4.15"/><circle cx="603.5" cy="270.3" r="4.15"/><circle cx="613" cy="258.7" r="4.15"/><circle cx="622.5" cy="245.3" r="4.15"/><circle cx="632.1" cy="231.6" r="4.15"/><circle cx="641.6" cy="224.2" r="4.15"/><circle cx="651.2" cy="204.2" r="4.15"/></g>
<path d="M288.6 325.3 298.1 337.3 307.7 345.6 317.2 351.9 326.8 351.8 336.3 351.8 345.8 352 355.4 355.5 364.9 359.7 374.5 364.8 384 366.9 393.5 366.5 403.1 365.2 412.6 361.8 422.2 356.6 431.7 351.4 441.2 349.2 450.8 342.9 460.3 335.8 469.9 328.3 479.4 328 489 330.4 498.5 331.9 508 331.4 517.6 333.1 527.1 336.5 536.7 340.1 546.2 338.3 555.8 340 565.3 344 574.8 338.3 584.4 335.3 593.9 331.3 603.5 330 613 316.8 622.5 310 632.1 302.5 641.6 297 651.2 284.4 660.7 266.4 670.2 252.3" fill="none" stroke-width="1.1"/>
<g stroke-width="1.4"><circle cx="288.6" cy="325.3" r="4.15"/><circle cx="298.1" cy="337.3" r="4.15"/><circle cx="307.7" cy="345.6" r="4.15"/><circle cx="317.2" cy="351.9" r="4.15"/><circle cx="326.8" cy="351.8" r="4.15"/><circle cx="336.3" cy="351.8" r="4.15"/><circle cx="345.8" cy="352" r="4.15"/><circle cx="355.4" cy="355.5" r="4.15"/><circle cx="364.9" cy="359.7" r="4.15"/><circle cx="374.5" cy="364.8" r="4.15"/><circle cx="384" cy="366.9" r="4.15"/><circle cx="393.5" cy="366.5" r="4.15"/><circle cx="403.1" cy="365.2" r="4.15"/><circle cx="412.6" cy="361.8" r="4.15"/><circle cx="422.2" cy="356.6" r="4.15"/><circle cx="431.7" cy="351.4" r="4.15"/><circle cx="441.2" cy="349.2" r="4.15"/><circle cx="450.8" cy="342.9" r="4.15"/><circle cx="460.3" cy="335.8" r="4.15"/><circle cx="469.9" cy="328.3" r="4.15"/><circle cx="479.4" cy="328" r="4.15"/><circle cx="489" cy="330.4" r="4.15"/><circle cx="498.5" cy="331.9" r="4.15"/><circle cx="508" cy="331.4" r="4.15"/><circle cx="517.6" cy="333.1" r="4.15"/><circle cx="527.1" cy="336.5" r="4.15"/><circle cx="536.7" cy="340.1" r="4.15"/><circle cx="546.2" cy="338.3" r="4.15"/><circle cx="555.8" cy="340" r="4.15"/><circle cx="565.3" cy="344" r="4.15"/><circle cx="574.8" cy="338.3" r="4.15"/><circle cx="584.4" cy="335.3" r="4.15"/><circle cx="593.9" cy="331.3" r="4.15"/><circle cx="603.5" cy="330" r="4.15"/><circle cx="613" cy="316.8" r="4.15"/><circle cx="622.5" cy="310" r="4.15"/><circle cx="632.1" cy="302.5" r="4.15"/><circle cx="641.6" cy="297" r="4.15"/><circle cx="651.2" cy="284.4" r="4.15"/><circle cx="660.7" cy="266.4" r="4.15"/><circle cx="670.2" cy="252.3" r="4.15"/></g>
<path d="M307.7 346 317.2 352.2 326.8 352.1 336.3 351.9 345.8 352.1 355.4 355.4 364.9 359.6 374.5 364.5 384 366.5 393.5 366 403.1 364.7 412.6 361.1 422.2 355.8 431.7 350.6 441.2 348.4 450.8 342 460.3 334.8 469.9 326.4 479.4 325.2 489 326.7 498.5 327.3 508 327.4 517.6 329.6 527.1 331.8 536.7 334.1 546.2 331 555.8 321.5 565.3 315.2 574.8 307.2 584.4 304 593.9 300.6 603.5 297.2 613 285.8 622.5 263.5 632.1 241.3 641.6 224.2 651.2 214.2 660.7 206.6 670.2 194.5 679.8 185.1 689.3 172.6" fill="none" stroke-width="1.1"/>
<g stroke-width="1.4"><circle cx="307.7" cy="346" r="4.15"/><circle cx="317.2" cy="352.2" r="4.15"/><circle cx="326.8" cy="352.1" r="4.15"/><circle cx="336.3" cy="351.9" r="4.15"/><circle cx="345.8" cy="352.1" r="4.15"/><circle cx="355.4" cy="355.4" r="4.15"/><circle cx="364.9" cy="359.6" r="4.15"/><circle cx="374.5" cy="364.5" r="4.15"/><circle cx="384" cy="366.5" r="4.15"/><circle cx="393.5" cy="366" r="4.15"/><circle cx="403.1" cy="364.7" r="4.15"/><circle cx="412.6" cy="361.1" r="4.15"/><circle cx="422.2" cy="355.8" r="4.15"/><circle cx="431.7" cy="350.6" r="4.15"/><circle cx="441.2" cy="348.4" r="4.15"/><circle cx="450.8" cy="342" r="4.15"/><circle cx="460.3" cy="334.8" r="4.15"/><circle cx="469.9" cy="326.4" r="4.15"/><circle cx="479.4" cy="325.2" r="4.15"/><circle cx="489" cy="326.7" r="4.15"/><circle cx="498.5" cy="327.3" r="4.15"/><circle cx="508" cy="327.4" r="4.15"/><circle cx="517.6" cy="329.6" r="4.15"/><circle cx="527.1" cy="331.8" r="4.15"/><circle cx="536.7" cy="334.1" r="4.15"/><circle cx="546.2" cy="331" r="4.15"/><circle cx="555.8" cy="321.5" r="4.15"/><circle cx="565.3" cy="315.2" r="4.15"/><circle cx="574.8" cy="307.2" r="4.15"/><circle cx="584.4" cy="304" r="4.15"/><circle cx="593.9" cy="300.6" r="4.15"/><circle cx="603.5" cy="297.2" r="4.15"/><circle cx="613" cy="285.8" r="4.15"/><circle cx="622.5" cy="263.5" r="4.15"/><circle cx="632.1" cy="241.3" r="4.15"/><circle cx="641.6" cy="224.2" r="4.15"/><circle cx="651.2" cy="214.2" r="4.15"/><circle cx="660.7" cy="206.6" r="4.15"/><circle cx="670.2" cy="194.5" r="4.15"/><circle cx="679.8" cy="185.1" r="4.15"/><circle cx="689.3" cy="172.6" r="4.15"/></g>
<path d="M326.8 352.7 336.3 352.6 345.8 352.8 355.4 356.2 364.9 360.5 374.5 365.5 384 367.5 393.5 367.1 403.1 365.8 412.6 362.3 422.2 357.1 431.7 351.9 441.2 349.8 450.8 343.4 460.3 336.2 469.9 328.8 479.4 328.5 489 330.9 498.5 332.4 508 333.4 517.6 336.6 527.1 338 536.7 339.6 546.2 343.1 555.8 350 565.3 340 574.8 333.5 584.4 333 593.9 331.9 603.5 327.4 613 313.9 622.5 304 632.1 294.2 641.6 290.5 651.2 283.7 660.7 279.4 670.2 271 679.8 258.3 689.3 236.7 698.9 219.8 708.4 212.6" fill="none" stroke-width="1.1"/>
<g stroke-width="1.4"><circle cx="326.8" cy="352.7" r="4.15"/><circle cx="336.3" cy="352.6" r="4.15"/><circle cx="345.8" cy="352.8" r="4.15"/><circle cx="355.4" cy="356.2" r="4.15"/><circle cx="364.9" cy="360.5" r="4.15"/><circle cx="374.5" cy="365.5" r="4.15"/><circle cx="384" cy="367.5" r="4.15"/><circle cx="393.5" cy="367.1" r="4.15"/><circle cx="403.1" cy="365.8" r="4.15"/><circle cx="412.6" cy="362.3" r="4.15"/><circle cx="422.2" cy="357.1" r="4.15"/><circle cx="431.7" cy="351.9" r="4.15"/><circle cx="441.2" cy="349.8" r="4.15"/><circle cx="450.8" cy="343.4" r="4.15"/><circle cx="460.3" cy="336.2" r="4.15"/><circle cx="469.9" cy="328.8" r="4.15"/><circle cx="479.4" cy="328.5" r="4.15"/><circle cx="489" cy="330.9" r="4.15"/><circle cx="498.5" cy="332.4" r="4.15"/><circle cx="508" cy="333.4" r="4.15"/><circle cx="517.6" cy="336.6" r="4.15"/><circle cx="527.1" cy="338" r="4.15"/><circle cx="536.7" cy="339.6" r="4.15"/><circle cx="546.2" cy="343.1" r="4.15"/><circle cx="555.8" cy="350" r="4.15"/><circle cx="565.3" cy="340" r="4.15"/><circle cx="574.8" cy="333.5" r="4.15"/><circle cx="584.4" cy="333" r="4.15"/><circle cx="593.9" cy="331.9" r="4.15"/><circle cx="603.5" cy="327.4" r="4.15"/><circle cx="613" cy="313.9" r="4.15"/><circle cx="622.5" cy="304" r="4.15"/><circle cx="632.1" cy="294.2" r="4.15"/><circle cx="641.6" cy="290.5" r="4.15"/><circle cx="651.2" cy="283.7" r="4.15"/><circle cx="660.7" cy="279.4" r="4.15"/><circle cx="670.2" cy="271" r="4.15"/><circle cx="679.8" cy="258.3" r="4.15"/><circle cx="689.3" cy="236.7" r="4.15"/><circle cx="698.9" cy="219.8" r="4.15"/><circle cx="708.4" cy="212.6" r="4.15"/></g>
<path d="M345.8 353.3 355.4 356.8 364.9 361.1 374.5 366.2 384 368.4 393.5 368 403.1 366.8 412.6 363.4 422.2 358.2 431.7 353.2 441.2 351.1 450.8 344.9 460.3 337.8 469.9 330.4 479.4 330.2 489 332.7 498.5 334.3 508 335.4 517.6 338.6 527.1 341.5 536.7 344.6 546.2 349.6 555.8 358 565.3 363 574.8 358.3 584.4 356.3 593.9 353.3 603.5 352 613 344.7 622.5 331.1 632.1 316.8 641.6 302.5 651.2 296 660.7 292 670.2 289 679.8 276.6 689.3 286 698.9 292.5 708.4 293 718 287.7 727.5 285" fill="none" stroke-width="1.1"/>
<g stroke-width="1.4"><circle cx="345.8" cy="353.3" r="4.15"/><circle cx="355.4" cy="356.8" r="4.15"/><circle cx="364.9" cy="361.1" r="4.15"/><circle cx="374.5" cy="366.2" r="4.15"/><circle cx="384" cy="368.4" r="4.15"/><circle cx="393.5" cy="368" r="4.15"/><circle cx="403.1" cy="366.8" r="4.15"/><circle cx="412.6" cy="363.4" r="4.15"/><circle cx="422.2" cy="358.2" r="4.15"/><circle cx="431.7" cy="353.2" r="4.15"/><circle cx="441.2" cy="351.1" r="4.15"/><circle cx="450.8" cy="344.9" r="4.15"/><circle cx="460.3" cy="337.8" r="4.15"/><circle cx="469.9" cy="330.4" r="4.15"/><circle cx="479.4" cy="330.2" r="4.15"/><circle cx="489" cy="332.7" r="4.15"/><circle cx="498.5" cy="334.3" r="4.15"/><circle cx="508" cy="335.4" r="4.15"/><circle cx="517.6" cy="338.6" r="4.15"/><circle cx="527.1" cy="341.5" r="4.15"/><circle cx="536.7" cy="344.6" r="4.15"/><circle cx="546.2" cy="349.6" r="4.15"/><circle cx="555.8" cy="358" r="4.15"/><circle cx="565.3" cy="363" r="4.15"/><circle cx="574.8" cy="358.3" r="4.15"/><circle cx="584.4" cy="356.3" r="4.15"/><circle cx="593.9" cy="353.3" r="4.15"/><circle cx="603.5" cy="352" r="4.15"/><circle cx="613" cy="344.7" r="4.15"/><circle cx="622.5" cy="331.1" r="4.15"/><circle cx="632.1" cy="316.8" r="4.15"/><circle cx="641.6" cy="302.5" r="4.15"/><circle cx="651.2" cy="296" r="4.15"/><circle cx="660.7" cy="292" r="4.15"/><circle cx="670.2" cy="289" r="4.15"/><circle cx="679.8" cy="276.6" r="4.15"/><circle cx="689.3" cy="286" r="4.15"/><circle cx="698.9" cy="292.5" r="4.15"/><circle cx="708.4" cy="293" r="4.15"/><circle cx="718" cy="287.7" r="4.15"/><circle cx="727.5" cy="285" r="4.15"/></g>
<path d="M364.9 361.5 374.5 366.8 384 369.3 393.5 369.1 403.1 368.2 412.6 365.1 422.2 360.2 431.7 355.4 441.2 353.6 450.8 347.7 460.3 340.9 469.9 333.8 479.4 333.8 489 336.6 498.5 338.5 508 339.9 517.6 343.4 527.1 348.7 536.7 354.1 546.2 362.1 555.8 373.5 565.3 384.3 574.8 385.3 584.4 389.8 593.9 393.3 603.5 396.8 613 400 622.5 400 632.1 396.8 641.6 393.6 651.2 387 660.7 382.7 670.2 377.6 679.8 370 689.3 355.6 698.9 346 708.4 341 718 343.7 727.5 344.5 737 355.6 746.6 371.5" fill="none" stroke-width="1.1"/>
<g stroke-width="1.4"><circle cx="364.9" cy="361.5" r="4.15"/><circle cx="374.5" cy="366.8" r="4.15"/><circle cx="384" cy="369.3" r="4.15"/><circle cx="393.5" cy="369.1" r="4.15"/><circle cx="403.1" cy="368.2" r="4.15"/><circle cx="412.6" cy="365.1" r="4.15"/><circle cx="422.2" cy="360.2" r="4.15"/><circle cx="431.7" cy="355.4" r="4.15"/><circle cx="441.2" cy="353.6" r="4.15"/><circle cx="450.8" cy="347.7" r="4.15"/><circle cx="460.3" cy="340.9" r="4.15"/><circle cx="469.9" cy="333.8" r="4.15"/><circle cx="479.4" cy="333.8" r="4.15"/><circle cx="489" cy="336.6" r="4.15"/><circle cx="498.5" cy="338.5" r="4.15"/><circle cx="508" cy="339.9" r="4.15"/><circle cx="517.6" cy="343.4" r="4.15"/><circle cx="527.1" cy="348.7" r="4.15"/><circle cx="536.7" cy="354.1" r="4.15"/><circle cx="546.2" cy="362.1" r="4.15"/><circle cx="555.8" cy="373.5" r="4.15"/><circle cx="565.3" cy="384.3" r="4.15"/><circle cx="574.8" cy="385.3" r="4.15"/><circle cx="584.4" cy="389.8" r="4.15"/><circle cx="593.9" cy="393.3" r="4.15"/><circle cx="603.5" cy="396.8" r="4.15"/><circle cx="613" cy="400" r="4.15"/><circle cx="622.5" cy="400" r="4.15"/><circle cx="632.1" cy="396.8" r="4.15"/><circle cx="641.6" cy="393.6" r="4.15"/><circle cx="651.2" cy="387" r="4.15"/><circle cx="660.7" cy="382.7" r="4.15"/><circle cx="670.2" cy="377.6" r="4.15"/><circle cx="679.8" cy="370" r="4.15"/><circle cx="689.3" cy="355.6" r="4.15"/><circle cx="698.9" cy="346" r="4.15"/><circle cx="708.4" cy="341" r="4.15"/><circle cx="718" cy="343.7" r="4.15"/><circle cx="727.5" cy="344.5" r="4.15"/><circle cx="737" cy="355.6" r="4.15"/><circle cx="746.6" cy="371.5" r="4.15"/></g>
<path d="M384 369 393.5 368.6 403.1 367.3 412.6 363.8 422.2 358.6 431.7 353.4 441.2 351.2 450.8 344.9 460.3 337.8 469.9 330.3 479.4 330 489 332.4 498.5 333.9 508 334.9 517.6 338.1 527.1 343 536.7 348.1 546.2 352.8 555.8 361 565.3 368.5 574.8 366.3 584.4 363.8 593.9 360.3 603.5 358.5 613 350.7 622.5 343.2 632.1 338.2 641.6 329.7 651.2 317.8 660.7 307.4 670.2 300 679.8 283 689.3 264 698.9 252.7 708.4 248.7 718 247 727.5 243 737 252.7 746.6 265.4 756.1 280 765.7 292.5" fill="none" stroke-width="1.1"/>
<g stroke-width="1.4"><circle cx="384" cy="369" r="4.15"/><circle cx="393.5" cy="368.6" r="4.15"/><circle cx="403.1" cy="367.3" r="4.15"/><circle cx="412.6" cy="363.8" r="4.15"/><circle cx="422.2" cy="358.6" r="4.15"/><circle cx="431.7" cy="353.4" r="4.15"/><circle cx="441.2" cy="351.2" r="4.15"/><circle cx="450.8" cy="344.9" r="4.15"/><circle cx="460.3" cy="337.8" r="4.15"/><circle cx="469.9" cy="330.3" r="4.15"/><circle cx="479.4" cy="330" r="4.15"/><circle cx="489" cy="332.4" r="4.15"/><circle cx="498.5" cy="333.9" r="4.15"/><circle cx="508" cy="334.9" r="4.15"/><circle cx="517.6" cy="338.1" r="4.15"/><circle cx="527.1" cy="343" r="4.15"/><circle cx="536.7" cy="348.1" r="4.15"/><circle cx="546.2" cy="352.8" r="4.15"/><circle cx="555.8" cy="361" r="4.15"/><circle cx="565.3" cy="368.5" r="4.15"/><circle cx="574.8" cy="366.3" r="4.15"/><circle cx="584.4" cy="363.8" r="4.15"/><circle cx="593.9" cy="360.3" r="4.15"/><circle cx="603.5" cy="358.5" r="4.15"/><circle cx="613" cy="350.7" r="4.15"/><circle cx="622.5" cy="343.2" r="4.15"/><circle cx="632.1" cy="338.2" r="4.15"/><circle cx="641.6" cy="329.7" r="4.15"/><circle cx="651.2" cy="317.8" r="4.15"/><circle cx="660.7" cy="307.4" r="4.15"/><circle cx="670.2" cy="300" r="4.15"/><circle cx="679.8" cy="283" r="4.15"/><circle cx="689.3" cy="264" r="4.15"/><circle cx="698.9" cy="252.7" r="4.15"/><circle cx="708.4" cy="248.7" r="4.15"/><circle cx="718" cy="247" r="4.15"/><circle cx="727.5" cy="243" r="4.15"/><circle cx="737" cy="252.7" r="4.15"/><circle cx="746.6" cy="265.4" r="4.15"/><circle cx="756.1" cy="280" r="4.15"/><circle cx="765.7" cy="292.5" r="4.15"/></g>
<path d="M403.1 367.8 412.6 364.1 422.2 358.7 431.7 353.4 441.2 351 450.8 344.6 460.3 337.2 469.9 329.6 479.4 329.1 489 331.3 498.5 332.7 508 333.5 517.6 336.5 527.1 341.2 536.7 346.1 546.2 350.3 555.8 358 565.3 365 574.8 362.3 584.4 362.3 593.9 361.3 603.5 362 613 356.7 622.5 346.5 632.1 338.7 641.6 327.4 651.2 312.8 660.7 303.9 670.2 298 679.8 285 689.3 270 698.9 257 708.4 250 718 252.7 727.5 256.7 737 266 746.6 270 756.1 288.5 765.7 306.8 775.2 308 784.8 297" fill="none" stroke-width="1.1"/>
<g stroke-width="1.4"><circle cx="403.1" cy="367.8" r="4.15"/><circle cx="412.6" cy="364.1" r="4.15"/><circle cx="422.2" cy="358.7" r="4.15"/><circle cx="431.7" cy="353.4" r="4.15"/><circle cx="441.2" cy="351" r="4.15"/><circle cx="450.8" cy="344.6" r="4.15"/><circle cx="460.3" cy="337.2" r="4.15"/><circle cx="469.9" cy="329.6" r="4.15"/><circle cx="479.4" cy="329.1" r="4.15"/><circle cx="489" cy="331.3" r="4.15"/><circle cx="498.5" cy="332.7" r="4.15"/><circle cx="508" cy="333.5" r="4.15"/><circle cx="517.6" cy="336.5" r="4.15"/><circle cx="527.1" cy="341.2" r="4.15"/><circle cx="536.7" cy="346.1" r="4.15"/><circle cx="546.2" cy="350.3" r="4.15"/><circle cx="555.8" cy="358" r="4.15"/><circle cx="565.3" cy="365" r="4.15"/><circle cx="574.8" cy="362.3" r="4.15"/><circle cx="584.4" cy="362.3" r="4.15"/><circle cx="593.9" cy="361.3" r="4.15"/><circle cx="603.5" cy="362" r="4.15"/><circle cx="613" cy="356.7" r="4.15"/><circle cx="622.5" cy="346.5" r="4.15"/><circle cx="632.1" cy="338.7" r="4.15"/><circle cx="641.6" cy="327.4" r="4.15"/><circle cx="651.2" cy="312.8" r="4.15"/><circle cx="660.7" cy="303.9" r="4.15"/><circle cx="670.2" cy="298" r="4.15"/><circle cx="679.8" cy="285" r="4.15"/><circle cx="689.3" cy="270" r="4.15"/><circle cx="698.9" cy="257" r="4.15"/><circle cx="708.4" cy="250" r="4.15"/><circle cx="718" cy="252.7" r="4.15"/><circle cx="727.5" cy="256.7" r="4.15"/><circle cx="737" cy="266" r="4.15"/><circle cx="746.6" cy="270" r="4.15"/><circle cx="756.1" cy="288.5" r="4.15"/><circle cx="765.7" cy="306.8" r="4.15"/><circle cx="775.2" cy="308" r="4.15"/><circle cx="784.8" cy="297" r="4.15"/></g>
<path d="M422.2 359.6 431.7 354.5 441.2 352.4 450.8 346.2 460.3 339.1 469.9 331.8 479.4 331.5 489 334 498.5 335.6 508 336.7 517.6 340 527.1 344.9 536.7 350.1 546.2 355.8 555.8 365 565.3 373.5 574.8 372.3 584.4 372.8 593.9 372.3 603.5 373.5 613 368.7 622.5 361.7 632.1 357.2 641.6 349.2 651.2 337.8 660.7 324.1 670.2 313.2 679.8 290 689.3 260.7 698.9 274 708.4 271 718 277.4 727.5 280.5 737 276.6 746.6 270 756.1 260.7 765.7 270 775.2 281.3 784.8 296.5 794.3 294.2 803.8 281.3" fill="none" stroke-width="1.1"/>
<g stroke-width="1.4"><circle cx="422.2" cy="359.6" r="4.15"/><circle cx="431.7" cy="354.5" r="4.15"/><circle cx="441.2" cy="352.4" r="4.15"/><circle cx="450.8" cy="346.2" r="4.15"/><circle cx="460.3" cy="339.1" r="4.15"/><circle cx="469.9" cy="331.8" r="4.15"/><circle cx="479.4" cy="331.5" r="4.15"/><circle cx="489" cy="334" r="4.15"/><circle cx="498.5" cy="335.6" r="4.15"/><circle cx="508" cy="336.7" r="4.15"/><circle cx="517.6" cy="340" r="4.15"/><circle cx="527.1" cy="344.9" r="4.15"/><circle cx="536.7" cy="350.1" r="4.15"/><circle cx="546.2" cy="355.8" r="4.15"/><circle cx="555.8" cy="365" r="4.15"/><circle cx="565.3" cy="373.5" r="4.15"/><circle cx="574.8" cy="372.3" r="4.15"/><circle cx="584.4" cy="372.8" r="4.15"/><circle cx="593.9" cy="372.3" r="4.15"/><circle cx="603.5" cy="373.5" r="4.15"/><circle cx="613" cy="368.7" r="4.15"/><circle cx="622.5" cy="361.7" r="4.15"/><circle cx="632.1" cy="357.2" r="4.15"/><circle cx="641.6" cy="349.2" r="4.15"/><circle cx="651.2" cy="337.8" r="4.15"/><circle cx="660.7" cy="324.1" r="4.15"/><circle cx="670.2" cy="313.2" r="4.15"/><circle cx="679.8" cy="290" r="4.15"/><circle cx="689.3" cy="260.7" r="4.15"/><circle cx="698.9" cy="274" r="4.15"/><circle cx="708.4" cy="271" r="4.15"/><circle cx="718" cy="277.4" r="4.15"/><circle cx="727.5" cy="280.5" r="4.15"/><circle cx="737" cy="276.6" r="4.15"/><circle cx="746.6" cy="270" r="4.15"/><circle cx="756.1" cy="260.7" r="4.15"/><circle cx="765.7" cy="270" r="4.15"/><circle cx="775.2" cy="281.3" r="4.15"/><circle cx="784.8" cy="296.5" r="4.15"/><circle cx="794.3" cy="294.2" r="4.15"/><circle cx="803.8" cy="281.3" r="4.15"/></g>
<path d="M441.2 352.8 450.8 346.7 460.3 339.8 469.9 332.6 479.4 332.5 489 335.2 498.5 336.9 508 338.2 517.6 341.6 527.1 346.8 536.7 352.1 546.2 358.3 555.8 368 565.3 377 574.8 376.3 584.4 377.8 593.9 378.3 603.5 380.5 613 376.7 622.5 372.2 632.1 370.2 641.6 361.2 651.2 348.8 660.7 338.1 670.2 330.2 679.8 327.3 689.3 319.4 698.9 312 708.4 310 718 305 727.5 305 737 303.6 746.6 303 756.1 305 765.7 306.8 775.2 295.6 784.8 283.6 794.3 271.9 803.8 260.2 813.4 256 822.9 257.8" fill="none" stroke-width="1.1"/>
<g stroke-width="1.4"><circle cx="441.2" cy="352.8" r="4.15"/><circle cx="450.8" cy="346.7" r="4.15"/><circle cx="460.3" cy="339.8" r="4.15"/><circle cx="469.9" cy="332.6" r="4.15"/><circle cx="479.4" cy="332.5" r="4.15"/><circle cx="489" cy="335.2" r="4.15"/><circle cx="498.5" cy="336.9" r="4.15"/><circle cx="508" cy="338.2" r="4.15"/><circle cx="517.6" cy="341.6" r="4.15"/><circle cx="527.1" cy="346.8" r="4.15"/><circle cx="536.7" cy="352.1" r="4.15"/><circle cx="546.2" cy="358.3" r="4.15"/><circle cx="555.8" cy="368" r="4.15"/><circle cx="565.3" cy="377" r="4.15"/><circle cx="574.8" cy="376.3" r="4.15"/><circle cx="584.4" cy="377.8" r="4.15"/><circle cx="593.9" cy="378.3" r="4.15"/><circle cx="603.5" cy="380.5" r="4.15"/><circle cx="613" cy="376.7" r="4.15"/><circle cx="622.5" cy="372.2" r="4.15"/><circle cx="632.1" cy="370.2" r="4.15"/><circle cx="641.6" cy="361.2" r="4.15"/><circle cx="651.2" cy="348.8" r="4.15"/><circle cx="660.7" cy="338.1" r="4.15"/><circle cx="670.2" cy="330.2" r="4.15"/><circle cx="679.8" cy="327.3" r="4.15"/><circle cx="689.3" cy="319.4" r="4.15"/><circle cx="698.9" cy="312" r="4.15"/><circle cx="708.4" cy="310" r="4.15"/><circle cx="718" cy="305" r="4.15"/><circle cx="727.5" cy="305" r="4.15"/><circle cx="737" cy="303.6" r="4.15"/><circle cx="746.6" cy="303" r="4.15"/><circle cx="756.1" cy="305" r="4.15"/><circle cx="765.7" cy="306.8" r="4.15"/><circle cx="775.2" cy="295.6" r="4.15"/><circle cx="784.8" cy="283.6" r="4.15"/><circle cx="794.3" cy="271.9" r="4.15"/><circle cx="803.8" cy="260.2" r="4.15"/><circle cx="813.4" cy="256" r="4.15"/><circle cx="822.9" cy="257.8" r="4.15"/></g>
<path d="M460.3 339.8 469.9 331.6 479.4 330.5 489 332.2 498.5 332.9 508 333.2 517.6 335.6 527.1 339.8 536.7 344.1 546.2 346.8 555.8 353 565.3 358.5 574.8 354.3 584.4 357.3 593.9 359.3 603.5 363 613 360.7 622.5 355.4 632.1 352.5 641.6 346.2 651.2 336.4 660.7 328.4 670.2 323.2 679.8 317.6 689.3 306.9 698.9 296.1 708.4 286.1 718 281.7 727.5 276 737 274.6 746.6 262 756.1 248 765.7 233.9 775.2 212.5 784.8 199.7 794.3 191 803.8 185.1 813.4 179.1 822.9 173 832.5 175.1 842 178.3" fill="none" stroke-width="1.1"/>
<g stroke-width="1.4"><circle cx="460.3" cy="339.8" r="4.15"/><circle cx="469.9" cy="331.6" r="4.15"/><circle cx="479.4" cy="330.5" r="4.15"/><circle cx="489" cy="332.2" r="4.15"/><circle cx="498.5" cy="332.9" r="4.15"/><circle cx="508" cy="333.2" r="4.15"/><circle cx="517.6" cy="335.6" r="4.15"/><circle cx="527.1" cy="339.8" r="4.15"/><circle cx="536.7" cy="344.1" r="4.15"/><circle cx="546.2" cy="346.8" r="4.15"/><circle cx="555.8" cy="353" r="4.15"/><circle cx="565.3" cy="358.5" r="4.15"/><circle cx="574.8" cy="354.3" r="4.15"/><circle cx="584.4" cy="357.3" r="4.15"/><circle cx="593.9" cy="359.3" r="4.15"/><circle cx="603.5" cy="363" r="4.15"/><circle cx="613" cy="360.7" r="4.15"/><circle cx="622.5" cy="355.4" r="4.15"/><circle cx="632.1" cy="352.5" r="4.15"/><circle cx="641.6" cy="346.2" r="4.15"/><circle cx="651.2" cy="336.4" r="4.15"/><circle cx="660.7" cy="328.4" r="4.15"/><circle cx="670.2" cy="323.2" r="4.15"/><circle cx="679.8" cy="317.6" r="4.15"/><circle cx="689.3" cy="306.9" r="4.15"/><circle cx="698.9" cy="296.1" r="4.15"/><circle cx="708.4" cy="286.1" r="4.15"/><circle cx="718" cy="281.7" r="4.15"/><circle cx="727.5" cy="276" r="4.15"/><circle cx="737" cy="274.6" r="4.15"/><circle cx="746.6" cy="262" r="4.15"/><circle cx="756.1" cy="248" r="4.15"/><circle cx="765.7" cy="233.9" r="4.15"/><circle cx="775.2" cy="212.5" r="4.15"/><circle cx="784.8" cy="199.7" r="4.15"/><circle cx="794.3" cy="191" r="4.15"/><circle cx="803.8" cy="185.1" r="4.15"/><circle cx="813.4" cy="179.1" r="4.15"/><circle cx="822.9" cy="173" r="4.15"/><circle cx="832.5" cy="175.1" r="4.15"/><circle cx="842" cy="178.3" r="4.15"/></g>
<path d="M479.4 332.5 489 335.5 498.5 337.6 508 339.2 517.6 343 527.1 348.4 536.7 354.1 546.2 361.8 555.8 373 565.3 383.5 574.8 384.3 584.4 384.6 593.9 383.9 603.5 385 613 387 622.5 384.8 632.1 384 641.6 381.7 651.2 376 660.7 367.6 670.2 359.6 679.8 352.5 689.3 343 698.9 337.4 708.4 335 718 337.4 727.5 336.2 737 343 746.6 351.7 756.1 360.9 765.7 360 775.2 361.7 784.8 360.4 794.3 362 803.8 355.6 813.4 348.8 822.9 341.3 832.5 340 842 340 851.5 343.7 861.1 348.2" fill="none" stroke-width="1.1"/>
<g stroke-width="1.4"><circle cx="479.4" cy="332.5" r="4.15"/><circle cx="489" cy="335.5" r="4.15"/><circle cx="498.5" cy="337.6" r="4.15"/><circle cx="508" cy="339.2" r="4.15"/><circle cx="517.6" cy="343" r="4.15"/><circle cx="527.1" cy="348.4" r="4.15"/><circle cx="536.7" cy="354.1" r="4.15"/><circle cx="546.2" cy="361.8" r="4.15"/><circle cx="555.8" cy="373" r="4.15"/><circle cx="565.3" cy="383.5" r="4.15"/><circle cx="574.8" cy="384.3" r="4.15"/><circle cx="584.4" cy="384.6" r="4.15"/><circle cx="593.9" cy="383.9" r="4.15"/><circle cx="603.5" cy="385" r="4.15"/><circle cx="613" cy="387" r="4.15"/><circle cx="622.5" cy="384.8" r="4.15"/><circle cx="632.1" cy="384" r="4.15"/><circle cx="641.6" cy="381.7" r="4.15"/><circle cx="651.2" cy="376" r="4.15"/><circle cx="660.7" cy="367.6" r="4.15"/><circle cx="670.2" cy="359.6" r="4.15"/><circle cx="679.8" cy="352.5" r="4.15"/><circle cx="689.3" cy="343" r="4.15"/><circle cx="698.9" cy="337.4" r="4.15"/><circle cx="708.4" cy="335" r="4.15"/><circle cx="718" cy="337.4" r="4.15"/><circle cx="727.5" cy="336.2" r="4.15"/><circle cx="737" cy="343" r="4.15"/><circle cx="746.6" cy="351.7" r="4.15"/><circle cx="756.1" cy="360.9" r="4.15"/><circle cx="765.7" cy="360" r="4.15"/><circle cx="775.2" cy="361.7" r="4.15"/><circle cx="784.8" cy="360.4" r="4.15"/><circle cx="794.3" cy="362" r="4.15"/><circle cx="803.8" cy="355.6" r="4.15"/><circle cx="813.4" cy="348.8" r="4.15"/><circle cx="822.9" cy="341.3" r="4.15"/><circle cx="832.5" cy="340" r="4.15"/><circle cx="842" cy="340" r="4.15"/><circle cx="851.5" cy="343.7" r="4.15"/><circle cx="861.1" cy="348.2" r="4.15"/></g>
<path d="M498.5 336.9 508 336.9 517.6 339.1 527.1 343 536.7 347.1 546.2 352.6 555.8 361.5 565.3 369.8 574.8 368.3 584.4 370.5 593.9 371.8 603.5 374.7 613 371.7 622.5 373 632.1 376 641.6 372 651.2 365.8 660.7 354.1 670.2 345.2 679.8 339.8 689.3 329.4 698.9 318.9 708.4 309.1 718 307.9 727.5 305.5 737 305.8 746.6 294.8 756.1 292.5 765.7 283 775.2 265.4 784.8 249.5 794.3 244 803.8 239.5 813.4 242.7 822.9 253.8 832.5 259 842 258 851.5 256 861.1 258.6 870.6 261 880.2 257" fill="none" stroke-width="1.1"/>
<g stroke-width="1.4"><circle cx="498.5" cy="336.9" r="4.15"/><circle cx="508" cy="336.9" r="4.15"/><circle cx="517.6" cy="339.1" r="4.15"/><circle cx="527.1" cy="343" r="4.15"/><circle cx="536.7" cy="347.1" r="4.15"/><circle cx="546.2" cy="352.6" r="4.15"/><circle cx="555.8" cy="361.5" r="4.15"/><circle cx="565.3" cy="369.8" r="4.15"/><circle cx="574.8" cy="368.3" r="4.15"/><circle cx="584.4" cy="370.5" r="4.15"/><circle cx="593.9" cy="371.8" r="4.15"/><circle cx="603.5" cy="374.7" r="4.15"/><circle cx="613" cy="371.7" r="4.15"/><circle cx="622.5" cy="373" r="4.15"/><circle cx="632.1" cy="376" r="4.15"/><circle cx="641.6" cy="372" r="4.15"/><circle cx="651.2" cy="365.8" r="4.15"/><circle cx="660.7" cy="354.1" r="4.15"/><circle cx="670.2" cy="345.2" r="4.15"/><circle cx="679.8" cy="339.8" r="4.15"/><circle cx="689.3" cy="329.4" r="4.15"/><circle cx="698.9" cy="318.9" r="4.15"/><circle cx="708.4" cy="309.1" r="4.15"/><circle cx="718" cy="307.9" r="4.15"/><circle cx="727.5" cy="305.5" r="4.15"/><circle cx="737" cy="305.8" r="4.15"/><circle cx="746.6" cy="294.8" r="4.15"/><circle cx="756.1" cy="292.5" r="4.15"/><circle cx="765.7" cy="283" r="4.15"/><circle cx="775.2" cy="265.4" r="4.15"/><circle cx="784.8" cy="249.5" r="4.15"/><circle cx="794.3" cy="244" r="4.15"/><circle cx="803.8" cy="239.5" r="4.15"/><circle cx="813.4" cy="242.7" r="4.15"/><circle cx="822.9" cy="253.8" r="4.15"/><circle cx="832.5" cy="259" r="4.15"/><circle cx="842" cy="258" r="4.15"/><circle cx="851.5" cy="256" r="4.15"/><circle cx="861.1" cy="258.6" r="4.15"/><circle cx="870.6" cy="261" r="4.15"/><circle cx="880.2" cy="257" r="4.15"/></g>
<path d="M517.6 341.6 527.1 343.3 536.7 345.1 546.2 348.8 555.8 356 565.3 356 574.8 346.3 584.4 348.3 593.9 349.3 603.5 355 613 354.7 622.5 353.7 632.1 355.2 641.6 351.4 651.2 344.3 660.7 338.8 670.2 336.2 679.8 333.3 689.3 325.4 698.9 323.8 708.4 320.7 718 323.5 727.5 318.3 737 316 746.6 313 756.1 319 765.7 315 775.2 308.7 784.8 305 794.3 303.5 803.8 303.5 813.4 304 822.9 307 832.5 312.4 842 309.5 851.5 312.7 861.1 323.8 870.6 344.2 880.2 366.3 889.7 387.3 899.2 403" fill="none" stroke-width="1.1"/>
<g stroke-width="1.4"><circle cx="517.6" cy="341.6" r="4.15"/><circle cx="527.1" cy="343.3" r="4.15"/><circle cx="536.7" cy="345.1" r="4.15"/><circle cx="546.2" cy="348.8" r="4.15"/><circle cx="555.8" cy="356" r="4.15"/><circle cx="565.3" cy="356" r="4.15"/><circle cx="574.8" cy="346.3" r="4.15"/><circle cx="584.4" cy="348.3" r="4.15"/><circle cx="593.9" cy="349.3" r="4.15"/><circle cx="603.5" cy="355" r="4.15"/><circle cx="613" cy="354.7" r="4.15"/><circle cx="622.5" cy="353.7" r="4.15"/><circle cx="632.1" cy="355.2" r="4.15"/><circle cx="641.6" cy="351.4" r="4.15"/><circle cx="651.2" cy="344.3" r="4.15"/><circle cx="660.7" cy="338.8" r="4.15"/><circle cx="670.2" cy="336.2" r="4.15"/><circle cx="679.8" cy="333.3" r="4.15"/><circle cx="689.3" cy="325.4" r="4.15"/><circle cx="698.9" cy="323.8" r="4.15"/><circle cx="708.4" cy="320.7" r="4.15"/><circle cx="718" cy="323.5" r="4.15"/><circle cx="727.5" cy="318.3" r="4.15"/><circle cx="737" cy="316" r="4.15"/><circle cx="746.6" cy="313" r="4.15"/><circle cx="756.1" cy="319" r="4.15"/><circle cx="765.7" cy="315" r="4.15"/><circle cx="775.2" cy="308.7" r="4.15"/><circle cx="784.8" cy="305" r="4.15"/><circle cx="794.3" cy="303.5" r="4.15"/><circle cx="803.8" cy="303.5" r="4.15"/><circle cx="813.4" cy="304" r="4.15"/><circle cx="822.9" cy="307" r="4.15"/><circle cx="832.5" cy="312.4" r="4.15"/><circle cx="842" cy="309.5" r="4.15"/><circle cx="851.5" cy="312.7" r="4.15"/><circle cx="861.1" cy="323.8" r="4.15"/><circle cx="870.6" cy="344.2" r="4.15"/><circle cx="880.2" cy="366.3" r="4.15"/><circle cx="889.7" cy="387.3" r="4.15"/><circle cx="899.2" cy="403" r="4.15"/></g>
<path d="M536.7 352.1 546.2 357.3 555.8 366 565.3 374 574.8 372.3 584.4 373.3 593.9 373.3 603.5 375 613 370.7 622.5 364.9 632.1 361.6 641.6 354.8 651.2 344.6 660.7 336.1 670.2 330.4 679.8 326.2 689.3 317 698.9 307.7 708.4 299.1 718 299.7 727.5 299 737 308 746.6 311.5 756.1 305 765.7 292.5 775.2 283 784.8 283.6 794.3 294.2 803.8 281.3 813.4 279.5 822.9 276 832.5 274.2 842 272 851.5 270 861.1 272 870.6 273 880.2 277 889.7 292.8 899.2 300.7 908.8 315 918.3 325.4" fill="none" stroke-width="1.1"/>
<g stroke-width="1.4"><circle cx="536.7" cy="352.1" r="4.15"/><circle cx="546.2" cy="357.3" r="4.15"/><circle cx="555.8" cy="366" r="4.15"/><circle cx="565.3" cy="374" r="4.15"/><circle cx="574.8" cy="372.3" r="4.15"/><circle cx="584.4" cy="373.3" r="4.15"/><circle cx="593.9" cy="373.3" r="4.15"/><circle cx="603.5" cy="375" r="4.15"/><circle cx="613" cy="370.7" r="4.15"/><circle cx="622.5" cy="364.9" r="4.15"/><circle cx="632.1" cy="361.6" r="4.15"/><circle cx="641.6" cy="354.8" r="4.15"/><circle cx="651.2" cy="344.6" r="4.15"/><circle cx="660.7" cy="336.1" r="4.15"/><circle cx="670.2" cy="330.4" r="4.15"/><circle cx="679.8" cy="326.2" r="4.15"/><circle cx="689.3" cy="317" r="4.15"/><circle cx="698.9" cy="307.7" r="4.15"/><circle cx="708.4" cy="299.1" r="4.15"/><circle cx="718" cy="299.7" r="4.15"/><circle cx="727.5" cy="299" r="4.15"/><circle cx="737" cy="308" r="4.15"/><circle cx="746.6" cy="311.5" r="4.15"/><circle cx="756.1" cy="305" r="4.15"/><circle cx="765.7" cy="292.5" r="4.15"/><circle cx="775.2" cy="283" r="4.15"/><circle cx="784.8" cy="283.6" r="4.15"/><circle cx="794.3" cy="294.2" r="4.15"/><circle cx="803.8" cy="281.3" r="4.15"/><circle cx="813.4" cy="279.5" r="4.15"/><circle cx="822.9" cy="276" r="4.15"/><circle cx="832.5" cy="274.2" r="4.15"/><circle cx="842" cy="272" r="4.15"/><circle cx="851.5" cy="270" r="4.15"/><circle cx="861.1" cy="272" r="4.15"/><circle cx="870.6" cy="273" r="4.15"/><circle cx="880.2" cy="277" r="4.15"/><circle cx="889.7" cy="292.8" r="4.15"/><circle cx="899.2" cy="300.7" r="4.15"/><circle cx="908.8" cy="315" r="4.15"/><circle cx="918.3" cy="325.4" r="4.15"/></g>
<path d="M555.8 370 565.3 378.7 574.8 377.6 584.4 376.3 593.9 376.1 603.5 377.6 613 373.1 622.5 367.9 632.1 365.2 641.6 358.2 651.2 347.8 660.7 339.1 670.2 333.2 679.8 328.8 689.3 319.4 698.9 309.9 708.4 301.1 718 297.2 727.5 292 737 289.5 746.6 275.8 756.1 264 765.7 243 775.2 232.5 784.8 222.5 794.3 236 803.8 234.7 813.4 238 822.9 243 832.5 250 842 256 851.5 262 861.1 266 870.6 268 880.2 272 889.7 281.7 899.2 291.2 908.8 308 918.3 320.6 927.9 321.4 937.4 317.4" fill="none" stroke-width="1.1"/>
<g stroke-width="1.4"><circle cx="555.8" cy="370" r="4.15"/><circle cx="565.3" cy="378.7" r="4.15"/><circle cx="574.8" cy="377.6" r="4.15"/><circle cx="584.4" cy="376.3" r="4.15"/><circle cx="593.9" cy="376.1" r="4.15"/><circle cx="603.5" cy="377.6" r="4.15"/><circle cx="613" cy="373.1" r="4.15"/><circle cx="622.5" cy="367.9" r="4.15"/><circle cx="632.1" cy="365.2" r="4.15"/><circle cx="641.6" cy="358.2" r="4.15"/><circle cx="651.2" cy="347.8" r="4.15"/><circle cx="660.7" cy="339.1" r="4.15"/><circle cx="670.2" cy="333.2" r="4.15"/><circle cx="679.8" cy="328.8" r="4.15"/><circle cx="689.3" cy="319.4" r="4.15"/><circle cx="698.9" cy="309.9" r="4.15"/><circle cx="708.4" cy="301.1" r="4.15"/><circle cx="718" cy="297.2" r="4.15"/><circle cx="727.5" cy="292" r="4.15"/><circle cx="737" cy="289.5" r="4.15"/><circle cx="746.6" cy="275.8" r="4.15"/><circle cx="756.1" cy="264" r="4.15"/><circle cx="765.7" cy="243" r="4.15"/><circle cx="775.2" cy="232.5" r="4.15"/><circle cx="784.8" cy="222.5" r="4.15"/><circle cx="794.3" cy="236" r="4.15"/><circle cx="803.8" cy="234.7" r="4.15"/><circle cx="813.4" cy="238" r="4.15"/><circle cx="822.9" cy="243" r="4.15"/><circle cx="832.5" cy="250" r="4.15"/><circle cx="842" cy="256" r="4.15"/><circle cx="851.5" cy="262" r="4.15"/><circle cx="861.1" cy="266" r="4.15"/><circle cx="870.6" cy="268" r="4.15"/><circle cx="880.2" cy="272" r="4.15"/><circle cx="889.7" cy="281.7" r="4.15"/><circle cx="899.2" cy="291.2" r="4.15"/><circle cx="908.8" cy="308" r="4.15"/><circle cx="918.3" cy="320.6" r="4.15"/><circle cx="927.9" cy="321.4" r="4.15"/><circle cx="937.4" cy="317.4" r="4.15"/></g>
<path d="M574.8 380.3 584.4 380.2 593.9 379 603.5 379.6 613 374.2 622.5 368.1 632.1 364.4 641.6 357.3 651.2 346.8 660.7 337.9 670.2 332 679.8 327.5 689.3 317.9 698.9 308.2 708.4 299.3 718 297.3 727.5 294 737 289 746.6 272.8 756.1 259.5 765.7 237 775.2 220.5 784.8 204.5 794.3 201.4 803.8 197 813.4 198 822.9 203 832.5 206.1 842 210.9 851.5 221.2 861.1 238.7 870.6 261.3 880.2 271.3 889.7 281.7 899.2 281.7 908.8 282.5 918.3 277 927.9 268.6 937.4 258.6 947 252.6 956.5 240.8" fill="none" stroke-width="1.1"/>
<g stroke-width="1.4"><circle cx="574.8" cy="380.3" r="4.15"/><circle cx="584.4" cy="380.2" r="4.15"/><circle cx="593.9" cy="379" r="4.15"/><circle cx="603.5" cy="379.6" r="4.15"/><circle cx="613" cy="374.2" r="4.15"/><circle cx="622.5" cy="368.1" r="4.15"/><circle cx="632.1" cy="364.4" r="4.15"/><circle cx="641.6" cy="357.3" r="4.15"/><circle cx="651.2" cy="346.8" r="4.15"/><circle cx="660.7" cy="337.9" r="4.15"/><circle cx="670.2" cy="332" r="4.15"/><circle cx="679.8" cy="327.5" r="4.15"/><circle cx="689.3" cy="317.9" r="4.15"/><circle cx="698.9" cy="308.2" r="4.15"/><circle cx="708.4" cy="299.3" r="4.15"/><circle cx="718" cy="297.3" r="4.15"/><circle cx="727.5" cy="294" r="4.15"/><circle cx="737" cy="289" r="4.15"/><circle cx="746.6" cy="272.8" r="4.15"/><circle cx="756.1" cy="259.5" r="4.15"/><circle cx="765.7" cy="237" r="4.15"/><circle cx="775.2" cy="220.5" r="4.15"/><circle cx="784.8" cy="204.5" r="4.15"/><circle cx="794.3" cy="201.4" r="4.15"/><circle cx="803.8" cy="197" r="4.15"/><circle cx="813.4" cy="198" r="4.15"/><circle cx="822.9" cy="203" r="4.15"/><circle cx="832.5" cy="206.1" r="4.15"/><circle cx="842" cy="210.9" r="4.15"/><circle cx="851.5" cy="221.2" r="4.15"/><circle cx="861.1" cy="238.7" r="4.15"/><circle cx="870.6" cy="261.3" r="4.15"/><circle cx="880.2" cy="271.3" r="4.15"/><circle cx="889.7" cy="281.7" r="4.15"/><circle cx="899.2" cy="281.7" r="4.15"/><circle cx="908.8" cy="282.5" r="4.15"/><circle cx="918.3" cy="277" r="4.15"/><circle cx="927.9" cy="268.6" r="4.15"/><circle cx="937.4" cy="258.6" r="4.15"/><circle cx="947" cy="252.6" r="4.15"/><circle cx="956.5" cy="240.8" r="4.15"/></g>
<path d="M593.9 379.3 603.5 379.8 613 374.3 622.5 368.1 632.1 364.3 641.6 357.1 651.2 346.5 660.7 337.6 670.2 331.5 679.8 326.9 689.3 317.3 698.9 307.5 708.4 298.5 718 296.4 727.5 293 737 287.2 746.6 270.2 756.1 256.2 765.7 233 775.2 218 784.8 209 794.3 201.3 803.8 194.2 813.4 186.2 822.9 189.9 832.5 193.4 842 191 851.5 193.4 861.1 201 870.6 215.6 880.2 221.7 889.7 221.7 899.2 215.7 908.8 212.5 918.3 205.7 927.9 202.1 937.4 201.1 947 206.1 956.5 206.5 966 205.1 975.6 202.7" fill="none" stroke-width="1.1"/>
<g stroke-width="1.4"><circle cx="593.9" cy="379.3" r="4.15"/><circle cx="603.5" cy="379.8" r="4.15"/><circle cx="613" cy="374.3" r="4.15"/><circle cx="622.5" cy="368.1" r="4.15"/><circle cx="632.1" cy="364.3" r="4.15"/><circle cx="641.6" cy="357.1" r="4.15"/><circle cx="651.2" cy="346.5" r="4.15"/><circle cx="660.7" cy="337.6" r="4.15"/><circle cx="670.2" cy="331.5" r="4.15"/><circle cx="679.8" cy="326.9" r="4.15"/><circle cx="689.3" cy="317.3" r="4.15"/><circle cx="698.9" cy="307.5" r="4.15"/><circle cx="708.4" cy="298.5" r="4.15"/><circle cx="718" cy="296.4" r="4.15"/><circle cx="727.5" cy="293" r="4.15"/><circle cx="737" cy="287.2" r="4.15"/><circle cx="746.6" cy="270.2" r="4.15"/><circle cx="756.1" cy="256.2" r="4.15"/><circle cx="765.7" cy="233" r="4.15"/><circle cx="775.2" cy="218" r="4.15"/><circle cx="784.8" cy="209" r="4.15"/><circle cx="794.3" cy="201.3" r="4.15"/><circle cx="803.8" cy="194.2" r="4.15"/><circle cx="813.4" cy="186.2" r="4.15"/><circle cx="822.9" cy="189.9" r="4.15"/><circle cx="832.5" cy="193.4" r="4.15"/><circle cx="842" cy="191" r="4.15"/><circle cx="851.5" cy="193.4" r="4.15"/><circle cx="861.1" cy="201" r="4.15"/><circle cx="870.6" cy="215.6" r="4.15"/><circle cx="880.2" cy="221.7" r="4.15"/><circle cx="889.7" cy="221.7" r="4.15"/><circle cx="899.2" cy="215.7" r="4.15"/><circle cx="908.8" cy="212.5" r="4.15"/><circle cx="918.3" cy="205.7" r="4.15"/><circle cx="927.9" cy="202.1" r="4.15"/><circle cx="937.4" cy="201.1" r="4.15"/><circle cx="947" cy="206.1" r="4.15"/><circle cx="956.5" cy="206.5" r="4.15"/><circle cx="966" cy="205.1" r="4.15"/><circle cx="975.6" cy="202.7" r="4.15"/></g>
<path d="M613 374.7 622.5 368.4 632.1 364.4 641.6 357.1 651.2 346.3 660.7 337.3 670.2 331.1 679.8 326.3 689.3 316.6 698.9 306.7 708.4 297.5 718 295.2 727.5 291.7 737 290.9 746.6 278.8 756.1 268.5 765.7 249 775.2 235 784.8 222.8 794.3 214 803.8 212 813.4 206 822.9 207.7 832.5 220.4 842 226.8 851.5 228.4 861.1 246.6 870.6 266 880.2 285 889.7 304 899.2 312.7 908.8 323.8 918.3 332 927.9 339.1 937.4 345 947 348 956.5 340 966 328 975.6 315 985.1 301.5 994.7 284" fill="none" stroke-width="1.1"/>
<g stroke-width="1.4"><circle cx="613" cy="374.7" r="4.15"/><circle cx="622.5" cy="368.4" r="4.15"/><circle cx="632.1" cy="364.4" r="4.15"/><circle cx="641.6" cy="357.1" r="4.15"/><circle cx="651.2" cy="346.3" r="4.15"/><circle cx="660.7" cy="337.3" r="4.15"/><circle cx="670.2" cy="331.1" r="4.15"/><circle cx="679.8" cy="326.3" r="4.15"/><circle cx="689.3" cy="316.6" r="4.15"/><circle cx="698.9" cy="306.7" r="4.15"/><circle cx="708.4" cy="297.5" r="4.15"/><circle cx="718" cy="295.2" r="4.15"/><circle cx="727.5" cy="291.7" r="4.15"/><circle cx="737" cy="290.9" r="4.15"/><circle cx="746.6" cy="278.8" r="4.15"/><circle cx="756.1" cy="268.5" r="4.15"/><circle cx="765.7" cy="249" r="4.15"/><circle cx="775.2" cy="235" r="4.15"/><circle cx="784.8" cy="222.8" r="4.15"/><circle cx="794.3" cy="214" r="4.15"/><circle cx="803.8" cy="212" r="4.15"/><circle cx="813.4" cy="206" r="4.15"/><circle cx="822.9" cy="207.7" r="4.15"/><circle cx="832.5" cy="220.4" r="4.15"/><circle cx="842" cy="226.8" r="4.15"/><circle cx="851.5" cy="228.4" r="4.15"/><circle cx="861.1" cy="246.6" r="4.15"/><circle cx="870.6" cy="266" r="4.15"/><circle cx="880.2" cy="285" r="4.15"/><circle cx="889.7" cy="304" r="4.15"/><circle cx="899.2" cy="312.7" r="4.15"/><circle cx="908.8" cy="323.8" r="4.15"/><circle cx="918.3" cy="332" r="4.15"/><circle cx="927.9" cy="339.1" r="4.15"/><circle cx="937.4" cy="345" r="4.15"/><circle cx="947" cy="348" r="4.15"/><circle cx="956.5" cy="340" r="4.15"/><circle cx="966" cy="328" r="4.15"/><circle cx="975.6" cy="315" r="4.15"/><circle cx="985.1" cy="301.5" r="4.15"/><circle cx="994.7" cy="284" r="4.15"/></g>
<path d="M632.1 365.2 641.6 357.9 651.2 347.3 660.7 338.3 670.2 332.2 679.8 327.6 689.3 317.9 698.9 308.1 708.4 299.1 718 296.9 727.5 293.5 737 292.8 746.6 280.8 756.1 265.5 765.7 241 775.2 225 784.8 217 794.3 210 803.8 205 813.4 208 822.9 216 832.5 228 842 240 851.5 255 861.1 255.4 870.6 274 880.2 289.6 889.7 300 899.2 309 908.8 320 918.3 335 927.9 344.1 937.4 352 947 356.6 956.5 350 966 353.9 975.6 352 985.1 359.2 994.7 373.3 1004.2 396.4 1013.7 416.4" fill="none" stroke-width="1.1"/>
<g stroke-width="1.4"><circle cx="632.1" cy="365.2" r="4.15"/><circle cx="641.6" cy="357.9" r="4.15"/><circle cx="651.2" cy="347.3" r="4.15"/><circle cx="660.7" cy="338.3" r="4.15"/><circle cx="670.2" cy="332.2" r="4.15"/><circle cx="679.8" cy="327.6" r="4.15"/><circle cx="689.3" cy="317.9" r="4.15"/><circle cx="698.9" cy="308.1" r="4.15"/><circle cx="708.4" cy="299.1" r="4.15"/><circle cx="718" cy="296.9" r="4.15"/><circle cx="727.5" cy="293.5" r="4.15"/><circle cx="737" cy="292.8" r="4.15"/><circle cx="746.6" cy="280.8" r="4.15"/><circle cx="756.1" cy="265.5" r="4.15"/><circle cx="765.7" cy="241" r="4.15"/><circle cx="775.2" cy="225" r="4.15"/><circle cx="784.8" cy="217" r="4.15"/><circle cx="794.3" cy="210" r="4.15"/><circle cx="803.8" cy="205" r="4.15"/><circle cx="813.4" cy="208" r="4.15"/><circle cx="822.9" cy="216" r="4.15"/><circle cx="832.5" cy="228" r="4.15"/><circle cx="842" cy="240" r="4.15"/><circle cx="851.5" cy="255" r="4.15"/><circle cx="861.1" cy="255.4" r="4.15"/><circle cx="870.6" cy="274" r="4.15"/><circle cx="880.2" cy="289.6" r="4.15"/><circle cx="889.7" cy="300" r="4.15"/><circle cx="899.2" cy="309" r="4.15"/><circle cx="908.8" cy="320" r="4.15"/><circle cx="918.3" cy="335" r="4.15"/><circle cx="927.9" cy="344.1" r="4.15"/><circle cx="937.4" cy="352" r="4.15"/><circle cx="947" cy="356.6" r="4.15"/><circle cx="956.5" cy="350" r="4.15"/><circle cx="966" cy="353.9" r="4.15"/><circle cx="975.6" cy="352" r="4.15"/><circle cx="985.1" cy="359.2" r="4.15"/><circle cx="994.7" cy="373.3" r="4.15"/><circle cx="1004.2" cy="396.4" r="4.15"/><circle cx="1013.7" cy="416.4" r="4.15"/></g>
<path d="M651.2 347.8 660.7 338.9 670.2 332.8 679.8 328.2 689.3 318.6 698.9 308.9 708.4 299.9 718 297.8 727.5 294.4 737 293.7 746.6 281.8 756.1 270 765.7 249 775.2 235 784.8 228 794.3 222 803.8 216 813.4 217 822.9 224 832.5 236 842 247 851.5 262 861.1 270 870.6 290 880.2 305 889.7 324.4 899.2 330 908.8 347.2 918.3 362 927.9 377.3 937.4 384.3 947 381.3 956.5 366.3 966 350.2 975.6 335.2 985.1 327.1 994.7 320.1 1004.2 320.5 1013.7 321.1 1023.3 318.1 1032.8 299.4" fill="none" stroke-width="1.1"/>
<g stroke-width="1.4"><circle cx="651.2" cy="347.8" r="4.15"/><circle cx="660.7" cy="338.9" r="4.15"/><circle cx="670.2" cy="332.8" r="4.15"/><circle cx="679.8" cy="328.2" r="4.15"/><circle cx="689.3" cy="318.6" r="4.15"/><circle cx="698.9" cy="308.9" r="4.15"/><circle cx="708.4" cy="299.9" r="4.15"/><circle cx="718" cy="297.8" r="4.15"/><circle cx="727.5" cy="294.4" r="4.15"/><circle cx="737" cy="293.7" r="4.15"/><circle cx="746.6" cy="281.8" r="4.15"/><circle cx="756.1" cy="270" r="4.15"/><circle cx="765.7" cy="249" r="4.15"/><circle cx="775.2" cy="235" r="4.15"/><circle cx="784.8" cy="228" r="4.15"/><circle cx="794.3" cy="222" r="4.15"/><circle cx="803.8" cy="216" r="4.15"/><circle cx="813.4" cy="217" r="4.15"/><circle cx="822.9" cy="224" r="4.15"/><circle cx="832.5" cy="236" r="4.15"/><circle cx="842" cy="247" r="4.15"/><circle cx="851.5" cy="262" r="4.15"/><circle cx="861.1" cy="270" r="4.15"/><circle cx="870.6" cy="290" r="4.15"/><circle cx="880.2" cy="305" r="4.15"/><circle cx="889.7" cy="324.4" r="4.15"/><circle cx="899.2" cy="330" r="4.15"/><circle cx="908.8" cy="347.2" r="4.15"/><circle cx="918.3" cy="362" r="4.15"/><circle cx="927.9" cy="377.3" r="4.15"/><circle cx="937.4" cy="384.3" r="4.15"/><circle cx="947" cy="381.3" r="4.15"/><circle cx="956.5" cy="366.3" r="4.15"/><circle cx="966" cy="350.2" r="4.15"/><circle cx="975.6" cy="335.2" r="4.15"/><circle cx="985.1" cy="327.1" r="4.15"/><circle cx="994.7" cy="320.1" r="4.15"/><circle cx="1004.2" cy="320.5" r="4.15"/><circle cx="1013.7" cy="321.1" r="4.15"/><circle cx="1023.3" cy="318.1" r="4.15"/><circle cx="1032.8" cy="299.4" r="4.15"/></g>
<path d="M670.2 333.2 679.8 328.7 689.3 319.2 698.9 309.5 708.4 300.6 718 298.5 727.5 295.2 737 294.6 746.6 282.8 756.1 273.8 765.7 255.7 775.2 243 784.8 230.8 794.3 225.7 803.8 219.2 813.4 220.8 822.9 228 832.5 240 842 250.2 851.5 258 861.1 270 870.6 300 880.2 325 889.7 344.4 899.2 350 908.8 360.2 918.3 368 927.9 370.6 937.4 372 947 360 956.5 343 966 325.4 975.6 306.3 985.1 292 994.7 275.3 1004.2 265.8 1013.7 249.2 1023.3 238.2 1032.8 228.2 1042.4 224.2 1051.9 222.5" fill="none" stroke-width="1.1"/>
<g stroke-width="1.4"><circle cx="670.2" cy="333.2" r="4.15"/><circle cx="679.8" cy="328.7" r="4.15"/><circle cx="689.3" cy="319.2" r="4.15"/><circle cx="698.9" cy="309.5" r="4.15"/><circle cx="708.4" cy="300.6" r="4.15"/><circle cx="718" cy="298.5" r="4.15"/><circle cx="727.5" cy="295.2" r="4.15"/><circle cx="737" cy="294.6" r="4.15"/><circle cx="746.6" cy="282.8" r="4.15"/><circle cx="756.1" cy="273.8" r="4.15"/><circle cx="765.7" cy="255.7" r="4.15"/><circle cx="775.2" cy="243" r="4.15"/><circle cx="784.8" cy="230.8" r="4.15"/><circle cx="794.3" cy="225.7" r="4.15"/><circle cx="803.8" cy="219.2" r="4.15"/><circle cx="813.4" cy="220.8" r="4.15"/><circle cx="822.9" cy="228" r="4.15"/><circle cx="832.5" cy="240" r="4.15"/><circle cx="842" cy="250.2" r="4.15"/><circle cx="851.5" cy="258" r="4.15"/><circle cx="861.1" cy="270" r="4.15"/><circle cx="870.6" cy="300" r="4.15"/><circle cx="880.2" cy="325" r="4.15"/><circle cx="889.7" cy="344.4" r="4.15"/><circle cx="899.2" cy="350" r="4.15"/><circle cx="908.8" cy="360.2" r="4.15"/><circle cx="918.3" cy="368" r="4.15"/><circle cx="927.9" cy="370.6" r="4.15"/><circle cx="937.4" cy="372" r="4.15"/><circle cx="947" cy="360" r="4.15"/><circle cx="956.5" cy="343" r="4.15"/><circle cx="966" cy="325.4" r="4.15"/><circle cx="975.6" cy="306.3" r="4.15"/><circle cx="985.1" cy="292" r="4.15"/><circle cx="994.7" cy="275.3" r="4.15"/><circle cx="1004.2" cy="265.8" r="4.15"/><circle cx="1013.7" cy="249.2" r="4.15"/><circle cx="1023.3" cy="238.2" r="4.15"/><circle cx="1032.8" cy="228.2" r="4.15"/><circle cx="1042.4" cy="224.2" r="4.15"/><circle cx="1051.9" cy="222.5" r="4.15"/></g>
</g>
<path d="M40.5 303H1185.5" stroke="#000" stroke-width="3.9" fill="none"/>
<g stroke="#ff6400" fill="#fff">
<path d="M689.3 315.5 698.9 308 708.4 299.5 718 297.5 727.5 293.5 737 291 746.6 284.3 756.1 275.6 765.7 257.8 775.2 245.4 784.8 233.6 794.3 229 803.8 223.5 813.4 228.8 822.9 240 832.5 255 842 266.2 851.5 279.5 861.1 301.5 870.6 326 880.2 338 889.7 343.8 899.2 344 908.8 342 918.3 338 927.9 336.2 937.4 332.5 947 329.5 956.5 316.2 966 303 975.6 288.8 985.1 276.2 994.7 261 1004.2 251.2 1013.7 241.8 1023.3 236.8 1032.8 231.2 1042.4 228.8 1051.9 229.5 1061.5 233 1071 233" fill="none" stroke-width="1.7"/>
<g stroke-width="1.8"><circle cx="689.3" cy="315.5" r="4.25"/><circle cx="698.9" cy="308" r="4.25"/><circle cx="708.4" cy="299.5" r="4.25"/><circle cx="718" cy="297.5" r="4.25"/><circle cx="727.5" cy="293.5" r="4.25"/><circle cx="737" cy="291" r="4.25"/><circle cx="746.6" cy="284.3" r="4.25"/><circle cx="756.1" cy="275.6" r="4.25"/><circle cx="765.7" cy="257.8" r="4.25"/><circle cx="775.2" cy="245.4" r="4.25"/><circle cx="784.8" cy="233.6" r="4.25"/><circle cx="794.3" cy="229" r="4.25"/><circle cx="803.8" cy="223.5" r="4.25"/><circle cx="813.4" cy="228.8" r="4.25"/><circle cx="822.9" cy="240" r="4.25"/><circle cx="832.5" cy="255" r="4.25"/><circle cx="842" cy="266.2" r="4.25"/><circle cx="851.5" cy="279.5" r="4.25"/><circle cx="861.1" cy="301.5" r="4.25"/><circle cx="870.6" cy="326" r="4.25"/><circle cx="880.2" cy="338" r="4.25"/><circle cx="889.7" cy="343.8" r="4.25"/><circle cx="899.2" cy="344" r="4.25"/><circle cx="908.8" cy="342" r="4.25"/><circle cx="918.3" cy="338" r="4.25"/><circle cx="927.9" cy="336.2" r="4.25"/><circle cx="937.4" cy="332.5" r="4.25"/><circle cx="947" cy="329.5" r="4.25"/><circle cx="956.5" cy="316.2" r="4.25"/><circle cx="966" cy="303" r="4.25"/><circle cx="975.6" cy="288.8" r="4.25"/><circle cx="985.1" cy="276.2" r="4.25"/><circle cx="994.7" cy="261" r="4.25"/><circle cx="1004.2" cy="251.2" r="4.25"/><circle cx="1013.7" cy="241.8" r="4.25"/><circle cx="1023.3" cy="236.8" r="4.25"/><circle cx="1032.8" cy="231.2" r="4.25"/><circle cx="1042.4" cy="228.8" r="4.25"/><circle cx="1051.9" cy="229.5" r="4.25"/><circle cx="1061.5" cy="233" r="4.25"/><circle cx="1071" cy="233" r="4.25"/></g>
</g>
<g stroke="#a30000" fill="#fff">
<path d="M708.4 298 718 296.5 727.5 292.5 737 290.3 746.6 283.2 756.1 274.4 765.7 256.4 775.2 243.9 784.8 231.9 794.3 226.6 803.8 219.6 813.4 217.5 822.9 224.5 832.5 237.5 842 247.5 851.5 263.8 861.1 283.8 870.6 309.4 880.2 328.2 889.7 338.8 899.2 343.8 908.8 350 918.3 353.8 927.9 360 937.4 362.5 947 356.2 956.5 336.8 966 314.5 975.6 293 985.1 274.5 994.7 252 1004.2 227.5 1013.7 200 1023.3 179.2 1032.8 160 1042.4 146.2 1051.9 137.5 1061.5 135 1071 131.2 1080.5 137.5 1090.1 153.8" fill="none" stroke-width="1.7"/>
<g stroke-width="1.8"><circle cx="708.4" cy="298" r="4.25"/><circle cx="718" cy="296.5" r="4.25"/><circle cx="727.5" cy="292.5" r="4.25"/><circle cx="737" cy="290.3" r="4.25"/><circle cx="746.6" cy="283.2" r="4.25"/><circle cx="756.1" cy="274.4" r="4.25"/><circle cx="765.7" cy="256.4" r="4.25"/><circle cx="775.2" cy="243.9" r="4.25"/><circle cx="784.8" cy="231.9" r="4.25"/><circle cx="794.3" cy="226.6" r="4.25"/><circle cx="803.8" cy="219.6" r="4.25"/><circle cx="813.4" cy="217.5" r="4.25"/><circle cx="822.9" cy="224.5" r="4.25"/><circle cx="832.5" cy="237.5" r="4.25"/><circle cx="842" cy="247.5" r="4.25"/><circle cx="851.5" cy="263.8" r="4.25"/><circle cx="861.1" cy="283.8" r="4.25"/><circle cx="870.6" cy="309.4" r="4.25"/><circle cx="880.2" cy="328.2" r="4.25"/><circle cx="889.7" cy="338.8" r="4.25"/><circle cx="899.2" cy="343.8" r="4.25"/><circle cx="908.8" cy="350" r="4.25"/><circle cx="918.3" cy="353.8" r="4.25"/><circle cx="927.9" cy="360" r="4.25"/><circle cx="937.4" cy="362.5" r="4.25"/><circle cx="947" cy="356.2" r="4.25"/><circle cx="956.5" cy="336.8" r="4.25"/><circle cx="966" cy="314.5" r="4.25"/><circle cx="975.6" cy="293" r="4.25"/><circle cx="985.1" cy="274.5" r="4.25"/><circle cx="994.7" cy="252" r="4.25"/><circle cx="1004.2" cy="227.5" r="4.25"/><circle cx="1013.7" cy="200" r="4.25"/><circle cx="1023.3" cy="179.2" r="4.25"/><circle cx="1032.8" cy="160" r="4.25"/><circle cx="1042.4" cy="146.2" r="4.25"/><circle cx="1051.9" cy="137.5" r="4.25"/><circle cx="1061.5" cy="135" r="4.25"/><circle cx="1071" cy="131.2" r="4.25"/><circle cx="1080.5" cy="137.5" r="4.25"/><circle cx="1090.1" cy="153.8" r="4.25"/></g>
</g>
<g stroke="#30cf30" fill="#fff">
<path d="M727.5 292 737 289.5 746.6 283.4 756.1 274.6 765.7 256.6 775.2 244.1 784.8 232.1 794.3 227.1 803.8 220.6 813.4 222.5 822.9 229.5 832.5 242 842 253 851.5 270 861.1 292.5 870.6 322.5 880.2 342.5 889.7 353.8 899.2 359.2 908.8 365 918.3 371.8 927.9 381.2 937.4 390 947 395 956.5 388 966 374.6 975.6 359.2 985.1 347.5 994.7 334.4 1004.2 320.5 1013.7 303.8 1023.3 286.2 1032.8 264 1042.4 242 1051.9 223 1061.5 210 1071 200.8 1080.5 200 1090.1 208 1099.6 223.8 1109.2 236.2" fill="none" stroke-width="1.7"/>
<g stroke-width="1.8"><circle cx="727.5" cy="292" r="4.25"/><circle cx="737" cy="289.5" r="4.25"/><circle cx="746.6" cy="283.4" r="4.25"/><circle cx="756.1" cy="274.6" r="4.25"/><circle cx="765.7" cy="256.6" r="4.25"/><circle cx="775.2" cy="244.1" r="4.25"/><circle cx="784.8" cy="232.1" r="4.25"/><circle cx="794.3" cy="227.1" r="4.25"/><circle cx="803.8" cy="220.6" r="4.25"/><circle cx="813.4" cy="222.5" r="4.25"/><circle cx="822.9" cy="229.5" r="4.25"/><circle cx="832.5" cy="242" r="4.25"/><circle cx="842" cy="253" r="4.25"/><circle cx="851.5" cy="270" r="4.25"/><circle cx="861.1" cy="292.5" r="4.25"/><circle cx="870.6" cy="322.5" r="4.25"/><circle cx="880.2" cy="342.5" r="4.25"/><circle cx="889.7" cy="353.8" r="4.25"/><circle cx="899.2" cy="359.2" r="4.25"/><circle cx="908.8" cy="365" r="4.25"/><circle cx="918.3" cy="371.8" r="4.25"/><circle cx="927.9" cy="381.2" r="4.25"/><circle cx="937.4" cy="390" r="4.25"/><circle cx="947" cy="395" r="4.25"/><circle cx="956.5" cy="388" r="4.25"/><circle cx="966" cy="374.6" r="4.25"/><circle cx="975.6" cy="359.2" r="4.25"/><circle cx="985.1" cy="347.5" r="4.25"/><circle cx="994.7" cy="334.4" r="4.25"/><circle cx="1004.2" cy="320.5" r="4.25"/><circle cx="1013.7" cy="303.8" r="4.25"/><circle cx="1023.3" cy="286.2" r="4.25"/><circle cx="1032.8" cy="264" r="4.25"/><circle cx="1042.4" cy="242" r="4.25"/><circle cx="1051.9" cy="223" r="4.25"/><circle cx="1061.5" cy="210" r="4.25"/><circle cx="1071" cy="200.8" r="4.25"/><circle cx="1080.5" cy="200" r="4.25"/><circle cx="1090.1" cy="208" r="4.25"/><circle cx="1099.6" cy="223.8" r="4.25"/><circle cx="1109.2" cy="236.2" r="4.25"/></g>
</g>
<path d="M746.6 283.8 756.1 275 765.7 257 775.2 244.5 784.8 232.5 794.3 227.5 803.8 221.2 813.4 223.8 822.9 232 832.5 245 842 256.2 851.5 276.2 861.1 300.5 870.6 333.8 880.2 357.5 889.7 372.5 899.2 373.8 908.8 380 918.3 383.8 927.9 392.5 937.4 400 947 405 956.5 398.8 966 387.3 975.6 370 985.1 360.4 994.7 352.5 1004.2 348.2 1013.7 343 1023.3 337.5 1032.8 325 1042.4 314.2 1051.9 310.8 1061.5 313.8 1071 317.5 1080.5 322.5 1090.1 325 1099.6 330 1109.2 326.2 1118.7 321.2 1128.2 318.8" fill="none" stroke="#000" stroke-width="1.6"/>
<path d="M746.6 274.8l6.4 9l-6.4 9l-6.4 -9zM756.1 266l6.4 9l-6.4 9l-6.4 -9zM765.7 248l6.4 9l-6.4 9l-6.4 -9zM775.2 235.5l6.4 9l-6.4 9l-6.4 -9zM784.8 223.5l6.4 9l-6.4 9l-6.4 -9zM794.3 218.5l6.4 9l-6.4 9l-6.4 -9zM803.8 212.2l6.4 9l-6.4 9l-6.4 -9zM813.4 214.8l6.4 9l-6.4 9l-6.4 -9zM822.9 223l6.4 9l-6.4 9l-6.4 -9zM832.5 236l6.4 9l-6.4 9l-6.4 -9zM842 247.2l6.4 9l-6.4 9l-6.4 -9zM851.5 267.2l6.4 9l-6.4 9l-6.4 -9zM861.1 291.5l6.4 9l-6.4 9l-6.4 -9zM870.6 324.8l6.4 9l-6.4 9l-6.4 -9zM880.2 348.5l6.4 9l-6.4 9l-6.4 -9zM889.7 363.5l6.4 9l-6.4 9l-6.4 -9zM899.2 364.8l6.4 9l-6.4 9l-6.4 -9zM908.8 371l6.4 9l-6.4 9l-6.4 -9zM918.3 374.8l6.4 9l-6.4 9l-6.4 -9zM927.9 383.5l6.4 9l-6.4 9l-6.4 -9zM937.4 391l6.4 9l-6.4 9l-6.4 -9zM947 396l6.4 9l-6.4 9l-6.4 -9zM956.5 389.8l6.4 9l-6.4 9l-6.4 -9zM966 378.3l6.4 9l-6.4 9l-6.4 -9zM975.6 361l6.4 9l-6.4 9l-6.4 -9zM985.1 351.4l6.4 9l-6.4 9l-6.4 -9zM994.7 343.5l6.4 9l-6.4 9l-6.4 -9zM1004.2 339.2l6.4 9l-6.4 9l-6.4 -9zM1013.7 334l6.4 9l-6.4 9l-6.4 -9zM1023.3 328.5l6.4 9l-6.4 9l-6.4 -9zM1032.8 316l6.4 9l-6.4 9l-6.4 -9zM1042.4 305.2l6.4 9l-6.4 9l-6.4 -9zM1051.9 301.8l6.4 9l-6.4 9l-6.4 -9zM1061.5 304.8l6.4 9l-6.4 9l-6.4 -9zM1071 308.5l6.4 9l-6.4 9l-6.4 -9zM1080.5 313.5l6.4 9l-6.4 9l-6.4 -9zM1090.1 316l6.4 9l-6.4 9l-6.4 -9zM1099.6 321l6.4 9l-6.4 9l-6.4 -9zM1109.2 317.2l6.4 9l-6.4 9l-6.4 -9zM1118.7 312.2l6.4 9l-6.4 9l-6.4 -9zM1128.2 309.8l6.4 9l-6.4 9l-6.4 -9z" fill="#000"/>
<path d="M688.5 303H1111" stroke="#124c9f" stroke-width="4.1" fill="none"/>
<path d="M688.5 303H1129.5" stroke="#3c95fb" stroke-width="2.3" fill="none" stroke-linecap="round"/>
<path d="M40.5 303.3C42.7 303.3 45.6 303.2 50 303.2C54.5 303.1 55.1 304.2 59.6 303C64 301.9 64.7 299.8 69.1 298.2C73.6 296.5 74.2 297.1 78.7 295.9C83.1 294.8 83.8 293.3 88.2 293.1C92.7 292.9 93.3 293.2 97.8 294.9C102.2 296.7 102.8 298.1 107.3 300.6C111.7 303 112.4 303.6 116.8 305.4C121.3 307.2 121.9 307.5 126.4 308.3C130.8 309.1 131.5 309.6 135.9 308.8C140.4 308 141 307.8 145.5 305C149.9 302.2 150.5 301.5 155 296.9C159.5 292.3 160.1 289.5 164.5 285.2C169 280.9 169.6 281.5 174.1 278.5C178.5 275.4 179.2 274.7 183.6 272C188.1 269.2 188.7 268.6 193.2 266.7C197.6 264.7 198.3 264.7 202.7 263.6C207.2 262.5 207.8 261.6 212.2 262.1C216.7 262.6 217.3 263.8 221.8 265.7C226.2 267.6 226.9 268.1 231.3 270.1C235.8 272.2 236.4 272 240.9 274.4C245.3 276.8 246 276.4 250.4 280.3C254.9 284.2 255.5 285.5 260 291.2C264.4 296.8 265 299.2 269.5 304.5C274 309.8 274.6 309.2 279 314C283.5 318.9 284.1 319.8 288.6 325.3C293 330.8 293.7 332.7 298.1 337.5C302.6 342.3 303.2 342.5 307.7 346C312.1 349.5 312.8 351 317.2 352.5C321.7 354.1 322.3 352.6 326.8 352.7C331.2 352.8 331.8 352.7 336.3 352.8C340.7 353 341.4 352.4 345.8 353.3C350.3 354.3 350.9 355.1 355.4 357C359.8 358.9 360.5 359.2 364.9 361.5C369.4 363.7 370 364.9 374.5 366.7C378.9 368.5 379.5 368.6 384 369C388.5 369.5 389.1 369.1 393.5 368.8C398 368.5 398.6 368.8 403.1 367.8C407.5 366.8 408.2 366.5 412.6 364.6C417.1 362.6 417.7 361.9 422.2 359.6C426.6 357.3 427.3 356.2 431.7 354.7C436.2 353.1 436.8 354.6 441.2 352.8C445.7 350.9 446.3 349.7 450.8 346.7C455.2 343.7 455.9 343 460.3 339.8C464.8 336.5 465.4 334.3 469.9 332.6C474.3 330.9 475 331.9 479.4 332.5C483.9 333.1 484.5 334.1 489 335.2C493.4 336.2 494 336.2 498.5 336.9C503 337.7 503.6 337.1 508 338.2C512.5 339.3 513.1 339.6 517.6 341.6C522 343.6 522.7 344.3 527.1 346.8C531.6 349.2 532.2 349.2 536.7 352.1C541.1 355 541.8 355.2 546.2 359.3C550.7 363.5 551.3 365.2 555.8 370C560.2 374.8 560.8 377.6 565.3 380C569.7 382.4 570.4 380.2 574.8 380.3C579.3 380.3 579.9 380.5 584.4 380.3C588.8 380.1 589.5 379.3 593.9 379.3C598.4 379.2 599 381 603.5 380C607.9 378.9 608.5 377.3 613 374.7C617.5 372.1 618.1 371 622.5 368.7C627 366.5 627.6 367.6 632.1 365.2C636.5 362.7 637.2 362.2 641.6 358.2C646.1 354.1 646.7 352.2 651.2 347.8C655.6 343.3 656.3 342.5 660.7 339.1C665.2 335.7 665.8 335.6 670.2 333.2C674.7 330.9 675.3 332.1 679.8 328.8C684.2 325.6 684.9 323.8 689.3 319.4C693.8 315 694.4 314.2 698.9 309.9C703.3 305.6 704 303.6 708.4 301.1C712.9 298.6 713.5 300.3 718 299.2C722.4 298 724.9 296.8 727.5 296C730.1 295.1 728.6 295.5 729 295.4" fill="none" stroke="#2346ff" stroke-width="3" stroke-linejoin="round" stroke-linecap="round"/>
<path d="M39 57.5H1186" stroke="#000" stroke-width="3.2" fill="none"/>
<path d="M40.5 56V550" stroke="#000" stroke-width="3.2" fill="none"/>
<path d="M39 548.3H1186.5" stroke="#000" stroke-width="3.6" fill="none"/>
<path d="M1185.6 56V550" stroke="#000" stroke-width="1.6" fill="none"/>
<path d="M33.5 548.2H39M33.5 499.1H39M33.5 450.1H39M33.5 401H39M33.5 351.9H39M33.5 302.9H39M33.5 253.8H39M33.5 204.7H39M33.5 155.6H39M33.5 106.6H39M33.5 57.5H39M78.7 550V554M269.5 550V554M460.3 550V554M651.2 550V554M842 550V554M1071 550V554" stroke="#000" stroke-width="1" fill="none"/>
<g font-family="Liberation Sans, sans-serif" stroke-width="0.25">
<text x="51.4" y="49" font-size="24.1" fill="#000" stroke="#000" textLength="85.7" lengthAdjust="spacingAndGlyphs">ECMWF</text>
<text x="144.9" y="49" font-size="24.1" fill="#000" stroke="#000" textLength="61.7" lengthAdjust="spacingAndGlyphs">HRES</text>
<text x="213.9" y="49" font-size="24.1" fill="#000" stroke="#000" textLength="158.7" lengthAdjust="spacingAndGlyphs">Deterministic</text>
<text x="376.9" y="49" font-size="24.1" fill="#000" stroke="#000" textLength="67.7" lengthAdjust="spacingAndGlyphs">North</text>
<text x="450.4" y="49" font-size="24.1" fill="#000" stroke="#000" textLength="88.7" lengthAdjust="spacingAndGlyphs">Atlantic</text>
<text x="544.9" y="49" font-size="24.1" fill="#000" stroke="#000" textLength="125.2" lengthAdjust="spacingAndGlyphs">Oscillation</text>
<text x="676.4" y="49" font-size="24.1" fill="#000" stroke="#000" textLength="70.2" lengthAdjust="spacingAndGlyphs">[NAO]</text>
<text x="750.9" y="49" font-size="24.1" fill="#000" stroke="#000" textLength="95.7" lengthAdjust="spacingAndGlyphs">Updated</text>
<text x="853.4" y="49" font-size="24.1" fill="#000" stroke="#000" textLength="38.2" lengthAdjust="spacingAndGlyphs">for</text>
<text x="899.9" y="49" font-size="24.1" fill="#000" stroke="#000" textLength="143.7" lengthAdjust="spacingAndGlyphs">2014012312</text>
<text x="9.3" y="556.3" font-size="23.3" fill="#000" stroke="#000" textLength="18.2" lengthAdjust="spacingAndGlyphs">-5</text>
<text x="9.3" y="507.2" font-size="23.3" fill="#000" stroke="#000" textLength="18.2" lengthAdjust="spacingAndGlyphs">-4</text>
<text x="9.3" y="458.2" font-size="23.3" fill="#000" stroke="#000" textLength="18.2" lengthAdjust="spacingAndGlyphs">-3</text>
<text x="9.3" y="409.1" font-size="23.3" fill="#000" stroke="#000" textLength="18.2" lengthAdjust="spacingAndGlyphs">-2</text>
<text x="9.3" y="360" font-size="23.3" fill="#000" stroke="#000" textLength="18.2" lengthAdjust="spacingAndGlyphs">-1</text>
<text x="16.1" y="311" font-size="23.3" fill="#000" stroke="#000">0</text>
<text x="16.1" y="261.9" font-size="23.3" fill="#000" stroke="#000">1</text>
<text x="16.1" y="212.8" font-size="23.3" fill="#000" stroke="#000">2</text>
<text x="16.1" y="163.7" font-size="23.3" fill="#000" stroke="#000">3</text>
<text x="16.1" y="114.7" font-size="23.3" fill="#000" stroke="#000">4</text>
<text x="16.1" y="65.6" font-size="23.3" fill="#000" stroke="#000">5</text>
<text x="58.4" y="572.9" font-size="19.6" fill="#000" stroke="#000" textLength="39.5" lengthAdjust="spacingAndGlyphs">6JAN</text>
<text x="246.2" y="572.9" font-size="19.6" fill="#000" stroke="#000" textLength="47.8" lengthAdjust="spacingAndGlyphs">11JAN</text>
<text x="437" y="572.9" font-size="19.6" fill="#000" stroke="#000" textLength="47.8" lengthAdjust="spacingAndGlyphs">16JAN</text>
<text x="627.9" y="572.9" font-size="19.6" fill="#000" stroke="#000" textLength="47.8" lengthAdjust="spacingAndGlyphs">21JAN</text>
<text x="818.7" y="572.9" font-size="19.6" fill="#000" stroke="#000" textLength="47.8" lengthAdjust="spacingAndGlyphs">26JAN</text>
<text x="1052" y="572.9" font-size="19.6" fill="#000" stroke="#000" textLength="38.7" lengthAdjust="spacingAndGlyphs">1FEB</text>
<text x="58.6" y="592" font-size="19.6" fill="#000" stroke="#000" textLength="40.4" lengthAdjust="spacingAndGlyphs">2014</text>
<text x="50.1" y="84.7" font-size="14.6" fill="#2346ff" stroke="#2346ff" textLength="71.3" lengthAdjust="spacingAndGlyphs">Analyzed</text>
<text x="126.1" y="84.7" font-size="14.6" fill="#2346ff" stroke="#2346ff" textLength="36.8" lengthAdjust="spacingAndGlyphs">NAO</text>
<text x="167.1" y="84.7" font-size="14.6" fill="#2346ff" stroke="#2346ff" textLength="33.8" lengthAdjust="spacingAndGlyphs">Blue</text>
<text x="206.1" y="84.7" font-size="14.6" fill="#2346ff" stroke="#2346ff" textLength="32.4" lengthAdjust="spacingAndGlyphs">Line</text>
<text x="52.1" y="100.4" font-size="14.6" fill="#000" stroke="#000" textLength="50.8" lengthAdjust="spacingAndGlyphs">10-day</text>
<text x="108.1" y="100.4" font-size="14.6" fill="#000" stroke="#000" textLength="77.8" lengthAdjust="spacingAndGlyphs">Forecasts,</text>
<text x="191.1" y="100.4" font-size="14.6" fill="#000" stroke="#000" textLength="10.8" lengthAdjust="spacingAndGlyphs">6</text>
<text x="205.1" y="100.4" font-size="14.6" fill="#000" stroke="#000" textLength="50.8" lengthAdjust="spacingAndGlyphs">hourly</text>
<text x="1015" y="96.9" font-size="19.3" fill="#ff6200" stroke="#ff6200" textLength="124.4" lengthAdjust="spacingAndGlyphs">2014012200</text>
<text x="1015" y="114.9" font-size="19.3" fill="#960808" stroke="#960808" textLength="124.4" lengthAdjust="spacingAndGlyphs">2014012212</text>
<text x="1015" y="131.8" font-size="19.3" fill="#2fcb2f" stroke="#2fcb2f" textLength="124.4" lengthAdjust="spacingAndGlyphs">2014012300</text>
<text x="1015" y="150.1" font-size="19.3" fill="#000" stroke="#000" textLength="124.4" lengthAdjust="spacingAndGlyphs">2014012312</text>
<text x="933.8" y="598.5" font-size="15.1" fill="#000" stroke="#000" textLength="104.8" lengthAdjust="spacingAndGlyphs">WeatherBELL</text>
<text x="1044.4" y="598.5" font-size="15.1" fill="#000" stroke="#000">|</text>
<text x="1057.8" y="598.5" font-size="15.1" fill="#000" stroke="#000" textLength="36.4" lengthAdjust="spacingAndGlyphs">Ryan</text>
<text x="1099.6" y="598.5" font-size="15.1" fill="#000" stroke="#000" textLength="16.3" lengthAdjust="spacingAndGlyphs">N.</text>
<text x="1121.7" y="598.5" font-size="15.1" fill="#000" stroke="#000" textLength="44.1" lengthAdjust="spacingAndGlyphs">Maue</text>
<text x="616.7" y="94.4" font-size="32" fill="#000" font-weight="bold" textLength="85.1" lengthAdjust="spacingAndGlyphs">Sharp</text>
<text x="713.4" y="94.4" font-size="32" fill="#000" font-weight="bold" textLength="100.4" lengthAdjust="spacingAndGlyphs">height</text>
<text x="820.4" y="94.4" font-size="32" fill="#000" font-weight="bold" textLength="56.4" lengthAdjust="spacingAndGlyphs">rise</text>
<text x="885.4" y="94.4" font-size="32" fill="#000" font-weight="bold" textLength="29.4" lengthAdjust="spacingAndGlyphs">in</text>
<text x="923.4" y="94.4" font-size="32" fill="#000" font-weight="bold" textLength="68.4" lengthAdjust="spacingAndGlyphs">NAO</text>
<text x="616.6" y="140.1" font-size="32" fill="#000" font-weight="bold" textLength="101" lengthAdjust="spacingAndGlyphs">region</text>
</g>
<ellipse cx="1040.1" cy="273.8" rx="124.1" ry="134" fill="none" stroke="#ed1c24" stroke-width="5.8"/>
</svg>
</body></html>
